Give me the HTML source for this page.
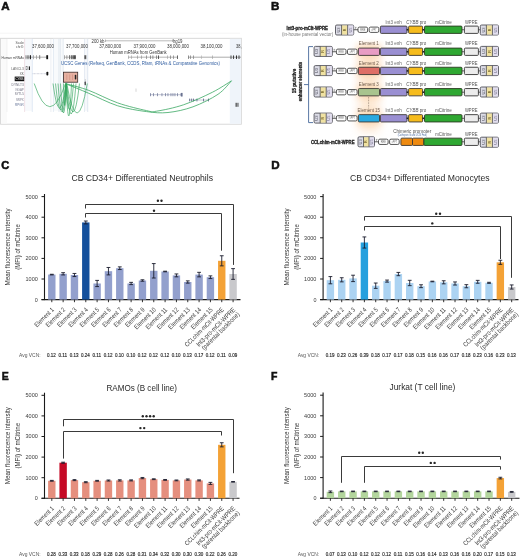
<!DOCTYPE html><html><head><meta charset="utf-8"><style>html,body{margin:0;padding:0;background:#fff;overflow:hidden;}svg{display:block;will-change:transform;}</style></head><body>
<svg width="520" height="557" viewBox="0 0 520 557" font-family='"Liberation Sans", sans-serif'>
<rect width="520" height="557" fill="#fff"/>
<text x="1.20" y="10.20" font-size="11.6" fill="#111" text-anchor="start" font-weight="bold" stroke="#111" stroke-width="0.55" style="">A</text>
<text x="271.00" y="10.00" font-size="11.6" fill="#111" text-anchor="start" font-weight="bold" stroke="#111" stroke-width="0.55" style="">B</text>
<text x="1.30" y="169.00" font-size="11.6" fill="#111" text-anchor="start" font-weight="bold" textLength="8.00" lengthAdjust="spacingAndGlyphs" stroke="#111" stroke-width="0.55" style="">C</text>
<text x="271.20" y="169.40" font-size="11.6" fill="#111" text-anchor="start" font-weight="bold" stroke="#111" stroke-width="0.55" style="">D</text>
<text x="1.70" y="379.90" font-size="11.6" fill="#111" text-anchor="start" font-weight="bold" textLength="7.00" lengthAdjust="spacingAndGlyphs" stroke="#111" stroke-width="0.55" style="">E</text>
<text x="271.00" y="380.10" font-size="11.6" fill="#111" text-anchor="start" font-weight="bold" textLength="6.40" lengthAdjust="spacingAndGlyphs" stroke="#111" stroke-width="0.55" style="">F</text>
<text x="71.40" y="180.60" font-size="8.6" fill="#2a2a2a" text-anchor="start" font-weight="normal" textLength="141.60" lengthAdjust="spacingAndGlyphs"  style="">CB CD34+ Differentiated Neutrophils</text>
<line x1="44.5" y1="194" x2="44.5" y2="300.1" stroke="#1a1a1a" stroke-width="1.1"/>
<line x1="41.5" y1="299.60" x2="44.5" y2="299.60" stroke="#1a1a1a" stroke-width="1"/>
<text x="37.80" y="301.50" font-size="5.4" fill="#3a3a3a" text-anchor="end" font-weight="normal" textLength="3.00" lengthAdjust="spacingAndGlyphs"  style="">0</text>
<line x1="41.5" y1="279.00" x2="44.5" y2="279.00" stroke="#1a1a1a" stroke-width="1"/>
<text x="37.80" y="280.90" font-size="5.4" fill="#3a3a3a" text-anchor="end" font-weight="normal" textLength="12.30" lengthAdjust="spacingAndGlyphs"  style="">1000</text>
<line x1="41.5" y1="258.40" x2="44.5" y2="258.40" stroke="#1a1a1a" stroke-width="1"/>
<text x="37.80" y="260.30" font-size="5.4" fill="#3a3a3a" text-anchor="end" font-weight="normal" textLength="12.30" lengthAdjust="spacingAndGlyphs"  style="">2000</text>
<line x1="41.5" y1="237.80" x2="44.5" y2="237.80" stroke="#1a1a1a" stroke-width="1"/>
<text x="37.80" y="239.70" font-size="5.4" fill="#3a3a3a" text-anchor="end" font-weight="normal" textLength="12.30" lengthAdjust="spacingAndGlyphs"  style="">3000</text>
<line x1="41.5" y1="217.20" x2="44.5" y2="217.20" stroke="#1a1a1a" stroke-width="1"/>
<text x="37.80" y="219.10" font-size="5.4" fill="#3a3a3a" text-anchor="end" font-weight="normal" textLength="12.30" lengthAdjust="spacingAndGlyphs"  style="">4000</text>
<line x1="41.5" y1="196.60" x2="44.5" y2="196.60" stroke="#1a1a1a" stroke-width="1"/>
<text x="37.80" y="198.50" font-size="5.4" fill="#3a3a3a" text-anchor="end" font-weight="normal" textLength="12.30" lengthAdjust="spacingAndGlyphs"  style="">5000</text>
<line x1="41.5" y1="299.6" x2="240.5" y2="299.6" stroke="#1a1a1a" stroke-width="1.1"/>
<rect x="48.10" y="274.59" width="7.4" height="25.01" fill="#93a0cd"/>
<line x1="51.80" y1="299.6" x2="51.80" y2="302.20000000000005" stroke="#1a1a1a" stroke-width="0.9"/>
<line x1="51.80" y1="274.28" x2="51.80" y2="274.90" stroke="#1a1c2c" stroke-width="0.9"/>
<line x1="49.90" y1="274.28" x2="53.70" y2="274.28" stroke="#1a1c2c" stroke-width="0.9"/>
<line x1="49.90" y1="274.90" x2="53.70" y2="274.90" stroke="#1a1c2c" stroke-width="0.9"/>
<rect x="59.43" y="273.81" width="7.4" height="25.79" fill="#93a0cd"/>
<line x1="63.13" y1="299.6" x2="63.13" y2="302.20000000000005" stroke="#1a1a1a" stroke-width="0.9"/>
<line x1="63.13" y1="272.68" x2="63.13" y2="274.94" stroke="#1a1c2c" stroke-width="0.9"/>
<line x1="61.23" y1="272.68" x2="65.03" y2="272.68" stroke="#1a1c2c" stroke-width="0.9"/>
<line x1="61.23" y1="274.94" x2="65.03" y2="274.94" stroke="#1a1c2c" stroke-width="0.9"/>
<rect x="70.76" y="275.00" width="7.4" height="24.60" fill="#93a0cd"/>
<line x1="74.46" y1="299.6" x2="74.46" y2="302.20000000000005" stroke="#1a1a1a" stroke-width="0.9"/>
<line x1="74.46" y1="273.46" x2="74.46" y2="276.55" stroke="#1a1c2c" stroke-width="0.9"/>
<line x1="72.56" y1="273.46" x2="76.36" y2="273.46" stroke="#1a1c2c" stroke-width="0.9"/>
<line x1="72.56" y1="276.55" x2="76.36" y2="276.55" stroke="#1a1c2c" stroke-width="0.9"/>
<rect x="82.09" y="222.45" width="7.4" height="77.15" fill="#14509c"/>
<line x1="85.79" y1="299.6" x2="85.79" y2="302.20000000000005" stroke="#1a1a1a" stroke-width="0.9"/>
<line x1="85.79" y1="221.01" x2="85.79" y2="223.90" stroke="#1a1c2c" stroke-width="0.9"/>
<line x1="83.89" y1="221.01" x2="87.69" y2="221.01" stroke="#1a1c2c" stroke-width="0.9"/>
<line x1="83.89" y1="223.90" x2="87.69" y2="223.90" stroke="#1a1c2c" stroke-width="0.9"/>
<rect x="93.42" y="283.49" width="7.4" height="16.11" fill="#93a0cd"/>
<line x1="97.12" y1="299.6" x2="97.12" y2="302.20000000000005" stroke="#1a1a1a" stroke-width="0.9"/>
<line x1="97.12" y1="280.40" x2="97.12" y2="286.58" stroke="#1a1c2c" stroke-width="0.9"/>
<line x1="95.22" y1="280.40" x2="99.02" y2="280.40" stroke="#1a1c2c" stroke-width="0.9"/>
<line x1="95.22" y1="286.58" x2="99.02" y2="286.58" stroke="#1a1c2c" stroke-width="0.9"/>
<rect x="104.75" y="271.19" width="7.4" height="28.41" fill="#93a0cd"/>
<line x1="108.45" y1="299.6" x2="108.45" y2="302.20000000000005" stroke="#1a1a1a" stroke-width="0.9"/>
<line x1="108.45" y1="267.48" x2="108.45" y2="274.90" stroke="#1a1c2c" stroke-width="0.9"/>
<line x1="106.55" y1="267.48" x2="110.35" y2="267.48" stroke="#1a1c2c" stroke-width="0.9"/>
<line x1="106.55" y1="274.90" x2="110.35" y2="274.90" stroke="#1a1c2c" stroke-width="0.9"/>
<rect x="116.08" y="268.21" width="7.4" height="31.39" fill="#93a0cd"/>
<line x1="119.78" y1="299.6" x2="119.78" y2="302.20000000000005" stroke="#1a1a1a" stroke-width="0.9"/>
<line x1="119.78" y1="266.87" x2="119.78" y2="269.54" stroke="#1a1c2c" stroke-width="0.9"/>
<line x1="117.88" y1="266.87" x2="121.68" y2="266.87" stroke="#1a1c2c" stroke-width="0.9"/>
<line x1="117.88" y1="269.54" x2="121.68" y2="269.54" stroke="#1a1c2c" stroke-width="0.9"/>
<rect x="127.41" y="283.49" width="7.4" height="16.11" fill="#93a0cd"/>
<line x1="131.11" y1="299.6" x2="131.11" y2="302.20000000000005" stroke="#1a1a1a" stroke-width="0.9"/>
<line x1="131.11" y1="282.36" x2="131.11" y2="284.62" stroke="#1a1c2c" stroke-width="0.9"/>
<line x1="129.21" y1="282.36" x2="133.01" y2="282.36" stroke="#1a1c2c" stroke-width="0.9"/>
<line x1="129.21" y1="284.62" x2="133.01" y2="284.62" stroke="#1a1c2c" stroke-width="0.9"/>
<rect x="138.74" y="280.50" width="7.4" height="19.10" fill="#93a0cd"/>
<line x1="142.44" y1="299.6" x2="142.44" y2="302.20000000000005" stroke="#1a1a1a" stroke-width="0.9"/>
<line x1="142.44" y1="279.78" x2="142.44" y2="281.22" stroke="#1a1c2c" stroke-width="0.9"/>
<line x1="140.54" y1="279.78" x2="144.34" y2="279.78" stroke="#1a1c2c" stroke-width="0.9"/>
<line x1="140.54" y1="281.22" x2="144.34" y2="281.22" stroke="#1a1c2c" stroke-width="0.9"/>
<rect x="150.07" y="270.80" width="7.4" height="28.80" fill="#93a0cd"/>
<line x1="153.77" y1="299.6" x2="153.77" y2="302.20000000000005" stroke="#1a1a1a" stroke-width="0.9"/>
<line x1="153.77" y1="263.59" x2="153.77" y2="278.01" stroke="#1a1c2c" stroke-width="0.9"/>
<line x1="151.87" y1="263.59" x2="155.67" y2="263.59" stroke="#1a1c2c" stroke-width="0.9"/>
<line x1="151.87" y1="278.01" x2="155.67" y2="278.01" stroke="#1a1c2c" stroke-width="0.9"/>
<rect x="161.40" y="271.50" width="7.4" height="28.10" fill="#93a0cd"/>
<line x1="165.10" y1="299.6" x2="165.10" y2="302.20000000000005" stroke="#1a1a1a" stroke-width="0.9"/>
<line x1="165.10" y1="271.19" x2="165.10" y2="271.81" stroke="#1a1c2c" stroke-width="0.9"/>
<line x1="163.20" y1="271.19" x2="167.00" y2="271.19" stroke="#1a1c2c" stroke-width="0.9"/>
<line x1="163.20" y1="271.81" x2="167.00" y2="271.81" stroke="#1a1c2c" stroke-width="0.9"/>
<rect x="172.73" y="275.40" width="7.4" height="24.20" fill="#93a0cd"/>
<line x1="176.43" y1="299.6" x2="176.43" y2="302.20000000000005" stroke="#1a1a1a" stroke-width="0.9"/>
<line x1="176.43" y1="273.95" x2="176.43" y2="276.84" stroke="#1a1c2c" stroke-width="0.9"/>
<line x1="174.53" y1="273.95" x2="178.33" y2="273.95" stroke="#1a1c2c" stroke-width="0.9"/>
<line x1="174.53" y1="276.84" x2="178.33" y2="276.84" stroke="#1a1c2c" stroke-width="0.9"/>
<rect x="184.06" y="282.01" width="7.4" height="17.59" fill="#93a0cd"/>
<line x1="187.76" y1="299.6" x2="187.76" y2="302.20000000000005" stroke="#1a1a1a" stroke-width="0.9"/>
<line x1="187.76" y1="280.87" x2="187.76" y2="283.14" stroke="#1a1c2c" stroke-width="0.9"/>
<line x1="185.86" y1="280.87" x2="189.66" y2="280.87" stroke="#1a1c2c" stroke-width="0.9"/>
<line x1="185.86" y1="283.14" x2="189.66" y2="283.14" stroke="#1a1c2c" stroke-width="0.9"/>
<rect x="195.39" y="274.59" width="7.4" height="25.01" fill="#93a0cd"/>
<line x1="199.09" y1="299.6" x2="199.09" y2="302.20000000000005" stroke="#1a1a1a" stroke-width="0.9"/>
<line x1="199.09" y1="272.33" x2="199.09" y2="276.86" stroke="#1a1c2c" stroke-width="0.9"/>
<line x1="197.19" y1="272.33" x2="200.99" y2="272.33" stroke="#1a1c2c" stroke-width="0.9"/>
<line x1="197.19" y1="276.86" x2="200.99" y2="276.86" stroke="#1a1c2c" stroke-width="0.9"/>
<rect x="206.72" y="277.21" width="7.4" height="22.39" fill="#93a0cd"/>
<line x1="210.42" y1="299.6" x2="210.42" y2="302.20000000000005" stroke="#1a1a1a" stroke-width="0.9"/>
<line x1="210.42" y1="275.87" x2="210.42" y2="278.55" stroke="#1a1c2c" stroke-width="0.9"/>
<line x1="208.52" y1="275.87" x2="212.32" y2="275.87" stroke="#1a1c2c" stroke-width="0.9"/>
<line x1="208.52" y1="278.55" x2="212.32" y2="278.55" stroke="#1a1c2c" stroke-width="0.9"/>
<rect x="218.05" y="260.81" width="7.4" height="38.79" fill="#f4a236"/>
<line x1="221.75" y1="299.6" x2="221.75" y2="302.20000000000005" stroke="#1a1a1a" stroke-width="0.9"/>
<line x1="221.75" y1="255.76" x2="221.75" y2="265.86" stroke="#1a1c2c" stroke-width="0.9"/>
<line x1="219.85" y1="255.76" x2="223.65" y2="255.76" stroke="#1a1c2c" stroke-width="0.9"/>
<line x1="219.85" y1="265.86" x2="223.65" y2="265.86" stroke="#1a1c2c" stroke-width="0.9"/>
<rect x="229.38" y="273.99" width="7.4" height="25.61" fill="#c9c9cc"/>
<line x1="233.08" y1="299.6" x2="233.08" y2="302.20000000000005" stroke="#1a1a1a" stroke-width="0.9"/>
<line x1="233.08" y1="268.64" x2="233.08" y2="279.35" stroke="#1a1c2c" stroke-width="0.9"/>
<line x1="231.18" y1="268.64" x2="234.98" y2="268.64" stroke="#1a1c2c" stroke-width="0.9"/>
<line x1="231.18" y1="279.35" x2="234.98" y2="279.35" stroke="#1a1c2c" stroke-width="0.9"/>
<path d="M85.50 208.50 V204.50 H233.50 V264.90" fill="none" stroke="#3a3a3a" stroke-width="1"/>
<path d="M85.50 217.50 V213.50 H221.50 V250.70" fill="none" stroke="#3a3a3a" stroke-width="1"/>
<circle cx="157.90" cy="200.80" r="1.2" fill="#262626"/>
<circle cx="161.50" cy="200.80" r="1.2" fill="#262626"/>
<circle cx="154.00" cy="210.70" r="1.2" fill="#262626"/>
<text transform="translate(54.40,310.20) rotate(-45)" font-size="6.6" fill="#3c3c3c" text-anchor="end" textLength="24.6" lengthAdjust="spacingAndGlyphs">Element 1</text>
<text transform="translate(65.73,310.20) rotate(-45)" font-size="6.6" fill="#3c3c3c" text-anchor="end" textLength="24.6" lengthAdjust="spacingAndGlyphs">Element 2</text>
<text transform="translate(77.06,310.20) rotate(-45)" font-size="6.6" fill="#3c3c3c" text-anchor="end" textLength="24.6" lengthAdjust="spacingAndGlyphs">Element 3</text>
<text transform="translate(88.39,310.20) rotate(-45)" font-size="6.6" fill="#3c3c3c" text-anchor="end" textLength="24.6" lengthAdjust="spacingAndGlyphs">Element 4</text>
<text transform="translate(99.72,310.20) rotate(-45)" font-size="6.6" fill="#3c3c3c" text-anchor="end" textLength="24.6" lengthAdjust="spacingAndGlyphs">Element 5</text>
<text transform="translate(111.05,310.20) rotate(-45)" font-size="6.6" fill="#3c3c3c" text-anchor="end" textLength="24.6" lengthAdjust="spacingAndGlyphs">Element 6</text>
<text transform="translate(122.38,310.20) rotate(-45)" font-size="6.6" fill="#3c3c3c" text-anchor="end" textLength="24.6" lengthAdjust="spacingAndGlyphs">Element 7</text>
<text transform="translate(133.71,310.20) rotate(-45)" font-size="6.6" fill="#3c3c3c" text-anchor="end" textLength="24.6" lengthAdjust="spacingAndGlyphs">Element 8</text>
<text transform="translate(145.04,310.20) rotate(-45)" font-size="6.6" fill="#3c3c3c" text-anchor="end" textLength="24.6" lengthAdjust="spacingAndGlyphs">Element 9</text>
<text transform="translate(156.37,310.20) rotate(-45)" font-size="6.6" fill="#3c3c3c" text-anchor="end" textLength="27.6" lengthAdjust="spacingAndGlyphs">Element 10</text>
<text transform="translate(167.70,310.20) rotate(-45)" font-size="6.6" fill="#3c3c3c" text-anchor="end" textLength="27.6" lengthAdjust="spacingAndGlyphs">Element 11</text>
<text transform="translate(179.03,310.20) rotate(-45)" font-size="6.6" fill="#3c3c3c" text-anchor="end" textLength="27.6" lengthAdjust="spacingAndGlyphs">Element 12</text>
<text transform="translate(190.36,310.20) rotate(-45)" font-size="6.6" fill="#3c3c3c" text-anchor="end" textLength="27.6" lengthAdjust="spacingAndGlyphs">Element 13</text>
<text transform="translate(201.69,310.20) rotate(-45)" font-size="6.6" fill="#3c3c3c" text-anchor="end" textLength="27.6" lengthAdjust="spacingAndGlyphs">Element 14</text>
<text transform="translate(213.02,310.20) rotate(-45)" font-size="6.6" fill="#3c3c3c" text-anchor="end" textLength="27.6" lengthAdjust="spacingAndGlyphs">Element 15</text>
<text transform="translate(224.35,310.20) rotate(-45)" font-size="6.6" fill="#3c3c3c" text-anchor="end" textLength="52.5" lengthAdjust="spacingAndGlyphs">CCLchim-mCit-WPRE</text>
<text transform="translate(235.68,310.20) rotate(-45)" font-size="6.6" fill="#3c3c3c" text-anchor="end" textLength="52.0" lengthAdjust="spacingAndGlyphs">lnt3-pro-mCit-WPRE</text>
<text transform="translate(239.98,314.70) rotate(-45)" font-size="6.6" fill="#3c3c3c" text-anchor="end" textLength="50.5" lengthAdjust="spacingAndGlyphs">(parental backbone)</text>
<text transform="translate(10.40,247.00) rotate(-90)" font-size="7.1" fill="#333" text-anchor="middle" textLength="77" lengthAdjust="spacingAndGlyphs">Mean fluorescence intensity</text>
<text transform="translate(20.20,247.00) rotate(-90)" font-size="7.1" fill="#333" text-anchor="middle" textLength="45.5" lengthAdjust="spacingAndGlyphs">(MFI) of mCitrine</text>
<text x="40.60" y="356.90" font-size="5.6" fill="#555" text-anchor="end" font-weight="normal" textLength="21.50" lengthAdjust="spacingAndGlyphs"  style="">Avg VCN:</text>
<text x="51.50" y="356.90" font-size="5.8" fill="#2a2a2a" text-anchor="middle" font-weight="normal" textLength="8.80" lengthAdjust="spacingAndGlyphs" stroke="#2a2a2a" stroke-width="0.18" style="">0.12</text>
<text x="62.83" y="356.90" font-size="5.8" fill="#2a2a2a" text-anchor="middle" font-weight="normal" textLength="8.80" lengthAdjust="spacingAndGlyphs" stroke="#2a2a2a" stroke-width="0.18" style="">0.11</text>
<text x="74.16" y="356.90" font-size="5.8" fill="#2a2a2a" text-anchor="middle" font-weight="normal" textLength="8.80" lengthAdjust="spacingAndGlyphs" stroke="#2a2a2a" stroke-width="0.18" style="">0.13</text>
<text x="85.49" y="356.90" font-size="5.8" fill="#2a2a2a" text-anchor="middle" font-weight="normal" textLength="8.80" lengthAdjust="spacingAndGlyphs" stroke="#2a2a2a" stroke-width="0.18" style="">0.24</text>
<text x="96.82" y="356.90" font-size="5.8" fill="#2a2a2a" text-anchor="middle" font-weight="normal" textLength="8.80" lengthAdjust="spacingAndGlyphs" stroke="#2a2a2a" stroke-width="0.18" style="">0.11</text>
<text x="108.15" y="356.90" font-size="5.8" fill="#2a2a2a" text-anchor="middle" font-weight="normal" textLength="8.80" lengthAdjust="spacingAndGlyphs" stroke="#2a2a2a" stroke-width="0.18" style="">0.12</text>
<text x="119.48" y="356.90" font-size="5.8" fill="#2a2a2a" text-anchor="middle" font-weight="normal" textLength="8.80" lengthAdjust="spacingAndGlyphs" stroke="#2a2a2a" stroke-width="0.18" style="">0.10</text>
<text x="130.81" y="356.90" font-size="5.8" fill="#2a2a2a" text-anchor="middle" font-weight="normal" textLength="8.80" lengthAdjust="spacingAndGlyphs" stroke="#2a2a2a" stroke-width="0.18" style="">0.10</text>
<text x="142.14" y="356.90" font-size="5.8" fill="#2a2a2a" text-anchor="middle" font-weight="normal" textLength="8.80" lengthAdjust="spacingAndGlyphs" stroke="#2a2a2a" stroke-width="0.18" style="">0.12</text>
<text x="153.47" y="356.90" font-size="5.8" fill="#2a2a2a" text-anchor="middle" font-weight="normal" textLength="8.80" lengthAdjust="spacingAndGlyphs" stroke="#2a2a2a" stroke-width="0.18" style="">0.12</text>
<text x="164.80" y="356.90" font-size="5.8" fill="#2a2a2a" text-anchor="middle" font-weight="normal" textLength="8.80" lengthAdjust="spacingAndGlyphs" stroke="#2a2a2a" stroke-width="0.18" style="">0.12</text>
<text x="176.13" y="356.90" font-size="5.8" fill="#2a2a2a" text-anchor="middle" font-weight="normal" textLength="8.80" lengthAdjust="spacingAndGlyphs" stroke="#2a2a2a" stroke-width="0.18" style="">0.10</text>
<text x="187.46" y="356.90" font-size="5.8" fill="#2a2a2a" text-anchor="middle" font-weight="normal" textLength="8.80" lengthAdjust="spacingAndGlyphs" stroke="#2a2a2a" stroke-width="0.18" style="">0.13</text>
<text x="198.79" y="356.90" font-size="5.8" fill="#2a2a2a" text-anchor="middle" font-weight="normal" textLength="8.80" lengthAdjust="spacingAndGlyphs" stroke="#2a2a2a" stroke-width="0.18" style="">0.17</text>
<text x="210.12" y="356.90" font-size="5.8" fill="#2a2a2a" text-anchor="middle" font-weight="normal" textLength="8.80" lengthAdjust="spacingAndGlyphs" stroke="#2a2a2a" stroke-width="0.18" style="">0.12</text>
<text x="221.45" y="356.90" font-size="5.8" fill="#2a2a2a" text-anchor="middle" font-weight="normal" textLength="8.80" lengthAdjust="spacingAndGlyphs" stroke="#2a2a2a" stroke-width="0.18" style="">0.11</text>
<text x="232.78" y="356.90" font-size="5.8" fill="#2a2a2a" text-anchor="middle" font-weight="normal" textLength="8.80" lengthAdjust="spacingAndGlyphs" stroke="#2a2a2a" stroke-width="0.18" style="">0.09</text>
<text x="350.00" y="180.70" font-size="8.6" fill="#2a2a2a" text-anchor="start" font-weight="normal" textLength="139.60" lengthAdjust="spacingAndGlyphs"  style="">CB CD34+ Differentiated Monocytes</text>
<line x1="323.1" y1="194" x2="323.1" y2="300.1" stroke="#1a1a1a" stroke-width="1.1"/>
<line x1="320.1" y1="299.60" x2="323.1" y2="299.60" stroke="#1a1a1a" stroke-width="1"/>
<text x="316.40" y="301.50" font-size="5.4" fill="#3a3a3a" text-anchor="end" font-weight="normal" textLength="3.00" lengthAdjust="spacingAndGlyphs"  style="">0</text>
<line x1="320.1" y1="279.00" x2="323.1" y2="279.00" stroke="#1a1a1a" stroke-width="1"/>
<text x="316.40" y="280.90" font-size="5.4" fill="#3a3a3a" text-anchor="end" font-weight="normal" textLength="12.30" lengthAdjust="spacingAndGlyphs"  style="">1000</text>
<line x1="320.1" y1="258.40" x2="323.1" y2="258.40" stroke="#1a1a1a" stroke-width="1"/>
<text x="316.40" y="260.30" font-size="5.4" fill="#3a3a3a" text-anchor="end" font-weight="normal" textLength="12.30" lengthAdjust="spacingAndGlyphs"  style="">2000</text>
<line x1="320.1" y1="237.80" x2="323.1" y2="237.80" stroke="#1a1a1a" stroke-width="1"/>
<text x="316.40" y="239.70" font-size="5.4" fill="#3a3a3a" text-anchor="end" font-weight="normal" textLength="12.30" lengthAdjust="spacingAndGlyphs"  style="">3000</text>
<line x1="320.1" y1="217.20" x2="323.1" y2="217.20" stroke="#1a1a1a" stroke-width="1"/>
<text x="316.40" y="219.10" font-size="5.4" fill="#3a3a3a" text-anchor="end" font-weight="normal" textLength="12.30" lengthAdjust="spacingAndGlyphs"  style="">4000</text>
<line x1="320.1" y1="196.60" x2="323.1" y2="196.60" stroke="#1a1a1a" stroke-width="1"/>
<text x="316.40" y="198.50" font-size="5.4" fill="#3a3a3a" text-anchor="end" font-weight="normal" textLength="12.30" lengthAdjust="spacingAndGlyphs"  style="">5000</text>
<line x1="320.1" y1="299.6" x2="518.5" y2="299.6" stroke="#1a1a1a" stroke-width="1.1"/>
<rect x="326.70" y="280.19" width="7.4" height="19.41" fill="#acd3f2"/>
<line x1="330.40" y1="299.6" x2="330.40" y2="302.20000000000005" stroke="#1a1a1a" stroke-width="0.9"/>
<line x1="330.40" y1="276.59" x2="330.40" y2="283.80" stroke="#1a1c2c" stroke-width="0.9"/>
<line x1="328.50" y1="276.59" x2="332.30" y2="276.59" stroke="#1a1c2c" stroke-width="0.9"/>
<line x1="328.50" y1="283.80" x2="332.30" y2="283.80" stroke="#1a1c2c" stroke-width="0.9"/>
<rect x="338.03" y="279.80" width="7.4" height="19.80" fill="#acd3f2"/>
<line x1="341.73" y1="299.6" x2="341.73" y2="302.20000000000005" stroke="#1a1a1a" stroke-width="0.9"/>
<line x1="341.73" y1="277.74" x2="341.73" y2="281.86" stroke="#1a1c2c" stroke-width="0.9"/>
<line x1="339.83" y1="277.74" x2="343.63" y2="277.74" stroke="#1a1c2c" stroke-width="0.9"/>
<line x1="339.83" y1="281.86" x2="343.63" y2="281.86" stroke="#1a1c2c" stroke-width="0.9"/>
<rect x="349.36" y="278.40" width="7.4" height="21.20" fill="#acd3f2"/>
<line x1="353.06" y1="299.6" x2="353.06" y2="302.20000000000005" stroke="#1a1a1a" stroke-width="0.9"/>
<line x1="353.06" y1="275.21" x2="353.06" y2="281.60" stroke="#1a1c2c" stroke-width="0.9"/>
<line x1="351.16" y1="275.21" x2="354.96" y2="275.21" stroke="#1a1c2c" stroke-width="0.9"/>
<line x1="351.16" y1="281.60" x2="354.96" y2="281.60" stroke="#1a1c2c" stroke-width="0.9"/>
<rect x="360.69" y="242.50" width="7.4" height="57.10" fill="#25a0de"/>
<line x1="364.39" y1="299.6" x2="364.39" y2="302.20000000000005" stroke="#1a1a1a" stroke-width="0.9"/>
<line x1="364.39" y1="236.93" x2="364.39" y2="248.06" stroke="#1a1c2c" stroke-width="0.9"/>
<line x1="362.49" y1="236.93" x2="366.29" y2="236.93" stroke="#1a1c2c" stroke-width="0.9"/>
<line x1="362.49" y1="248.06" x2="366.29" y2="248.06" stroke="#1a1c2c" stroke-width="0.9"/>
<rect x="372.02" y="285.70" width="7.4" height="13.90" fill="#acd3f2"/>
<line x1="375.72" y1="299.6" x2="375.72" y2="302.20000000000005" stroke="#1a1a1a" stroke-width="0.9"/>
<line x1="375.72" y1="283.02" x2="375.72" y2="288.37" stroke="#1a1c2c" stroke-width="0.9"/>
<line x1="373.82" y1="283.02" x2="377.62" y2="283.02" stroke="#1a1c2c" stroke-width="0.9"/>
<line x1="373.82" y1="288.37" x2="377.62" y2="288.37" stroke="#1a1c2c" stroke-width="0.9"/>
<rect x="383.35" y="281.10" width="7.4" height="18.50" fill="#acd3f2"/>
<line x1="387.05" y1="299.6" x2="387.05" y2="302.20000000000005" stroke="#1a1a1a" stroke-width="0.9"/>
<line x1="387.05" y1="280.07" x2="387.05" y2="282.13" stroke="#1a1c2c" stroke-width="0.9"/>
<line x1="385.15" y1="280.07" x2="388.95" y2="280.07" stroke="#1a1c2c" stroke-width="0.9"/>
<line x1="385.15" y1="282.13" x2="388.95" y2="282.13" stroke="#1a1c2c" stroke-width="0.9"/>
<rect x="394.68" y="274.06" width="7.4" height="25.54" fill="#acd3f2"/>
<line x1="398.38" y1="299.6" x2="398.38" y2="302.20000000000005" stroke="#1a1a1a" stroke-width="0.9"/>
<line x1="398.38" y1="272.41" x2="398.38" y2="275.70" stroke="#1a1c2c" stroke-width="0.9"/>
<line x1="396.48" y1="272.41" x2="400.28" y2="272.41" stroke="#1a1c2c" stroke-width="0.9"/>
<line x1="396.48" y1="275.70" x2="400.28" y2="275.70" stroke="#1a1c2c" stroke-width="0.9"/>
<rect x="406.01" y="283.00" width="7.4" height="16.60" fill="#acd3f2"/>
<line x1="409.71" y1="299.6" x2="409.71" y2="302.20000000000005" stroke="#1a1a1a" stroke-width="0.9"/>
<line x1="409.71" y1="280.32" x2="409.71" y2="285.67" stroke="#1a1c2c" stroke-width="0.9"/>
<line x1="407.81" y1="280.32" x2="411.61" y2="280.32" stroke="#1a1c2c" stroke-width="0.9"/>
<line x1="407.81" y1="285.67" x2="411.61" y2="285.67" stroke="#1a1c2c" stroke-width="0.9"/>
<rect x="417.34" y="286.21" width="7.4" height="13.39" fill="#acd3f2"/>
<line x1="421.04" y1="299.6" x2="421.04" y2="302.20000000000005" stroke="#1a1a1a" stroke-width="0.9"/>
<line x1="421.04" y1="284.77" x2="421.04" y2="287.65" stroke="#1a1c2c" stroke-width="0.9"/>
<line x1="419.14" y1="284.77" x2="422.94" y2="284.77" stroke="#1a1c2c" stroke-width="0.9"/>
<line x1="419.14" y1="287.65" x2="422.94" y2="287.65" stroke="#1a1c2c" stroke-width="0.9"/>
<rect x="428.67" y="281.49" width="7.4" height="18.11" fill="#acd3f2"/>
<line x1="432.37" y1="299.6" x2="432.37" y2="302.20000000000005" stroke="#1a1a1a" stroke-width="0.9"/>
<line x1="432.37" y1="281.18" x2="432.37" y2="281.80" stroke="#1a1c2c" stroke-width="0.9"/>
<line x1="430.47" y1="281.18" x2="434.27" y2="281.18" stroke="#1a1c2c" stroke-width="0.9"/>
<line x1="430.47" y1="281.80" x2="434.27" y2="281.80" stroke="#1a1c2c" stroke-width="0.9"/>
<rect x="440.00" y="282.30" width="7.4" height="17.30" fill="#acd3f2"/>
<line x1="443.70" y1="299.6" x2="443.70" y2="302.20000000000005" stroke="#1a1a1a" stroke-width="0.9"/>
<line x1="443.70" y1="280.75" x2="443.70" y2="283.84" stroke="#1a1c2c" stroke-width="0.9"/>
<line x1="441.80" y1="280.75" x2="445.60" y2="280.75" stroke="#1a1c2c" stroke-width="0.9"/>
<line x1="441.80" y1="283.84" x2="445.60" y2="283.84" stroke="#1a1c2c" stroke-width="0.9"/>
<rect x="451.33" y="283.49" width="7.4" height="16.11" fill="#acd3f2"/>
<line x1="455.03" y1="299.6" x2="455.03" y2="302.20000000000005" stroke="#1a1a1a" stroke-width="0.9"/>
<line x1="455.03" y1="281.95" x2="455.03" y2="285.04" stroke="#1a1c2c" stroke-width="0.9"/>
<line x1="453.13" y1="281.95" x2="456.93" y2="281.95" stroke="#1a1c2c" stroke-width="0.9"/>
<line x1="453.13" y1="285.04" x2="456.93" y2="285.04" stroke="#1a1c2c" stroke-width="0.9"/>
<rect x="462.66" y="286.21" width="7.4" height="13.39" fill="#acd3f2"/>
<line x1="466.36" y1="299.6" x2="466.36" y2="302.20000000000005" stroke="#1a1a1a" stroke-width="0.9"/>
<line x1="466.36" y1="284.67" x2="466.36" y2="287.76" stroke="#1a1c2c" stroke-width="0.9"/>
<line x1="464.46" y1="284.67" x2="468.26" y2="284.67" stroke="#1a1c2c" stroke-width="0.9"/>
<line x1="464.46" y1="287.76" x2="468.26" y2="287.76" stroke="#1a1c2c" stroke-width="0.9"/>
<rect x="473.99" y="281.80" width="7.4" height="17.80" fill="#acd3f2"/>
<line x1="477.69" y1="299.6" x2="477.69" y2="302.20000000000005" stroke="#1a1a1a" stroke-width="0.9"/>
<line x1="477.69" y1="280.36" x2="477.69" y2="283.24" stroke="#1a1c2c" stroke-width="0.9"/>
<line x1="475.79" y1="280.36" x2="479.59" y2="280.36" stroke="#1a1c2c" stroke-width="0.9"/>
<line x1="475.79" y1="283.24" x2="479.59" y2="283.24" stroke="#1a1c2c" stroke-width="0.9"/>
<rect x="485.32" y="282.81" width="7.4" height="16.79" fill="#acd3f2"/>
<line x1="489.02" y1="299.6" x2="489.02" y2="302.20000000000005" stroke="#1a1a1a" stroke-width="0.9"/>
<line x1="489.02" y1="282.30" x2="489.02" y2="283.33" stroke="#1a1c2c" stroke-width="0.9"/>
<line x1="487.12" y1="282.30" x2="490.92" y2="282.30" stroke="#1a1c2c" stroke-width="0.9"/>
<line x1="487.12" y1="283.33" x2="490.92" y2="283.33" stroke="#1a1c2c" stroke-width="0.9"/>
<rect x="496.65" y="262.31" width="7.4" height="37.29" fill="#f4a236"/>
<line x1="500.35" y1="299.6" x2="500.35" y2="302.20000000000005" stroke="#1a1a1a" stroke-width="0.9"/>
<line x1="500.35" y1="260.25" x2="500.35" y2="264.37" stroke="#1a1c2c" stroke-width="0.9"/>
<line x1="498.45" y1="260.25" x2="502.25" y2="260.25" stroke="#1a1c2c" stroke-width="0.9"/>
<line x1="498.45" y1="264.37" x2="502.25" y2="264.37" stroke="#1a1c2c" stroke-width="0.9"/>
<rect x="507.98" y="286.99" width="7.4" height="12.61" fill="#c9c9cc"/>
<line x1="511.68" y1="299.6" x2="511.68" y2="302.20000000000005" stroke="#1a1a1a" stroke-width="0.9"/>
<line x1="511.68" y1="284.93" x2="511.68" y2="289.05" stroke="#1a1c2c" stroke-width="0.9"/>
<line x1="509.78" y1="284.93" x2="513.58" y2="284.93" stroke="#1a1c2c" stroke-width="0.9"/>
<line x1="509.78" y1="289.05" x2="513.58" y2="289.05" stroke="#1a1c2c" stroke-width="0.9"/>
<path d="M364.50 220.60 V216.50 H511.50 V277.80" fill="none" stroke="#3a3a3a" stroke-width="1"/>
<path d="M364.50 230.50 V226.50 H500.50 V259.00" fill="none" stroke="#3a3a3a" stroke-width="1"/>
<circle cx="436.20" cy="213.70" r="1.2" fill="#262626"/>
<circle cx="440.00" cy="213.70" r="1.2" fill="#262626"/>
<circle cx="432.30" cy="223.40" r="1.2" fill="#262626"/>
<text transform="translate(333.00,310.20) rotate(-45)" font-size="6.6" fill="#3c3c3c" text-anchor="end" textLength="24.6" lengthAdjust="spacingAndGlyphs">Element 1</text>
<text transform="translate(344.33,310.20) rotate(-45)" font-size="6.6" fill="#3c3c3c" text-anchor="end" textLength="24.6" lengthAdjust="spacingAndGlyphs">Element 2</text>
<text transform="translate(355.66,310.20) rotate(-45)" font-size="6.6" fill="#3c3c3c" text-anchor="end" textLength="24.6" lengthAdjust="spacingAndGlyphs">Element 3</text>
<text transform="translate(366.99,310.20) rotate(-45)" font-size="6.6" fill="#3c3c3c" text-anchor="end" textLength="24.6" lengthAdjust="spacingAndGlyphs">Element 4</text>
<text transform="translate(378.32,310.20) rotate(-45)" font-size="6.6" fill="#3c3c3c" text-anchor="end" textLength="24.6" lengthAdjust="spacingAndGlyphs">Element 5</text>
<text transform="translate(389.65,310.20) rotate(-45)" font-size="6.6" fill="#3c3c3c" text-anchor="end" textLength="24.6" lengthAdjust="spacingAndGlyphs">Element 6</text>
<text transform="translate(400.98,310.20) rotate(-45)" font-size="6.6" fill="#3c3c3c" text-anchor="end" textLength="24.6" lengthAdjust="spacingAndGlyphs">Element 7</text>
<text transform="translate(412.31,310.20) rotate(-45)" font-size="6.6" fill="#3c3c3c" text-anchor="end" textLength="24.6" lengthAdjust="spacingAndGlyphs">Element 8</text>
<text transform="translate(423.64,310.20) rotate(-45)" font-size="6.6" fill="#3c3c3c" text-anchor="end" textLength="24.6" lengthAdjust="spacingAndGlyphs">Element 9</text>
<text transform="translate(434.97,310.20) rotate(-45)" font-size="6.6" fill="#3c3c3c" text-anchor="end" textLength="27.6" lengthAdjust="spacingAndGlyphs">Element 10</text>
<text transform="translate(446.30,310.20) rotate(-45)" font-size="6.6" fill="#3c3c3c" text-anchor="end" textLength="27.6" lengthAdjust="spacingAndGlyphs">Element 11</text>
<text transform="translate(457.63,310.20) rotate(-45)" font-size="6.6" fill="#3c3c3c" text-anchor="end" textLength="27.6" lengthAdjust="spacingAndGlyphs">Element 12</text>
<text transform="translate(468.96,310.20) rotate(-45)" font-size="6.6" fill="#3c3c3c" text-anchor="end" textLength="27.6" lengthAdjust="spacingAndGlyphs">Element 13</text>
<text transform="translate(480.29,310.20) rotate(-45)" font-size="6.6" fill="#3c3c3c" text-anchor="end" textLength="27.6" lengthAdjust="spacingAndGlyphs">Element 14</text>
<text transform="translate(491.62,310.20) rotate(-45)" font-size="6.6" fill="#3c3c3c" text-anchor="end" textLength="27.6" lengthAdjust="spacingAndGlyphs">Element 15</text>
<text transform="translate(502.95,310.20) rotate(-45)" font-size="6.6" fill="#3c3c3c" text-anchor="end" textLength="52.5" lengthAdjust="spacingAndGlyphs">CCLchim-mCit-WPRE</text>
<text transform="translate(514.28,310.20) rotate(-45)" font-size="6.6" fill="#3c3c3c" text-anchor="end" textLength="52.0" lengthAdjust="spacingAndGlyphs">lnt3-pro-mCit-WPRE</text>
<text transform="translate(518.58,314.70) rotate(-45)" font-size="6.6" fill="#3c3c3c" text-anchor="end" textLength="50.5" lengthAdjust="spacingAndGlyphs">(parental backbone)</text>
<text transform="translate(289.00,247.00) rotate(-90)" font-size="7.1" fill="#333" text-anchor="middle" textLength="77" lengthAdjust="spacingAndGlyphs">Mean fluorescence intensity</text>
<text transform="translate(298.80,247.00) rotate(-90)" font-size="7.1" fill="#333" text-anchor="middle" textLength="45.5" lengthAdjust="spacingAndGlyphs">(MFI) of mCitrine</text>
<text x="319.20" y="356.90" font-size="5.6" fill="#555" text-anchor="end" font-weight="normal" textLength="21.50" lengthAdjust="spacingAndGlyphs"  style="">Avg VCN:</text>
<text x="330.10" y="356.90" font-size="5.8" fill="#2a2a2a" text-anchor="middle" font-weight="normal" textLength="8.80" lengthAdjust="spacingAndGlyphs" stroke="#2a2a2a" stroke-width="0.18" style="">0.19</text>
<text x="341.43" y="356.90" font-size="5.8" fill="#2a2a2a" text-anchor="middle" font-weight="normal" textLength="8.80" lengthAdjust="spacingAndGlyphs" stroke="#2a2a2a" stroke-width="0.18" style="">0.23</text>
<text x="352.76" y="356.90" font-size="5.8" fill="#2a2a2a" text-anchor="middle" font-weight="normal" textLength="8.80" lengthAdjust="spacingAndGlyphs" stroke="#2a2a2a" stroke-width="0.18" style="">0.26</text>
<text x="364.09" y="356.90" font-size="5.8" fill="#2a2a2a" text-anchor="middle" font-weight="normal" textLength="8.80" lengthAdjust="spacingAndGlyphs" stroke="#2a2a2a" stroke-width="0.18" style="">0.39</text>
<text x="375.42" y="356.90" font-size="5.8" fill="#2a2a2a" text-anchor="middle" font-weight="normal" textLength="8.80" lengthAdjust="spacingAndGlyphs" stroke="#2a2a2a" stroke-width="0.18" style="">0.18</text>
<text x="386.75" y="356.90" font-size="5.8" fill="#2a2a2a" text-anchor="middle" font-weight="normal" textLength="8.80" lengthAdjust="spacingAndGlyphs" stroke="#2a2a2a" stroke-width="0.18" style="">0.17</text>
<text x="398.08" y="356.90" font-size="5.8" fill="#2a2a2a" text-anchor="middle" font-weight="normal" textLength="8.80" lengthAdjust="spacingAndGlyphs" stroke="#2a2a2a" stroke-width="0.18" style="">0.17</text>
<text x="409.41" y="356.90" font-size="5.8" fill="#2a2a2a" text-anchor="middle" font-weight="normal" textLength="8.80" lengthAdjust="spacingAndGlyphs" stroke="#2a2a2a" stroke-width="0.18" style="">0.18</text>
<text x="420.74" y="356.90" font-size="5.8" fill="#2a2a2a" text-anchor="middle" font-weight="normal" textLength="8.80" lengthAdjust="spacingAndGlyphs" stroke="#2a2a2a" stroke-width="0.18" style="">0.15</text>
<text x="432.07" y="356.90" font-size="5.8" fill="#2a2a2a" text-anchor="middle" font-weight="normal" textLength="8.80" lengthAdjust="spacingAndGlyphs" stroke="#2a2a2a" stroke-width="0.18" style="">0.16</text>
<text x="443.40" y="356.90" font-size="5.8" fill="#2a2a2a" text-anchor="middle" font-weight="normal" textLength="8.80" lengthAdjust="spacingAndGlyphs" stroke="#2a2a2a" stroke-width="0.18" style="">0.16</text>
<text x="454.73" y="356.90" font-size="5.8" fill="#2a2a2a" text-anchor="middle" font-weight="normal" textLength="8.80" lengthAdjust="spacingAndGlyphs" stroke="#2a2a2a" stroke-width="0.18" style="">0.17</text>
<text x="466.06" y="356.90" font-size="5.8" fill="#2a2a2a" text-anchor="middle" font-weight="normal" textLength="8.80" lengthAdjust="spacingAndGlyphs" stroke="#2a2a2a" stroke-width="0.18" style="">0.18</text>
<text x="477.39" y="356.90" font-size="5.8" fill="#2a2a2a" text-anchor="middle" font-weight="normal" textLength="8.80" lengthAdjust="spacingAndGlyphs" stroke="#2a2a2a" stroke-width="0.18" style="">0.23</text>
<text x="488.72" y="356.90" font-size="5.8" fill="#2a2a2a" text-anchor="middle" font-weight="normal" textLength="8.80" lengthAdjust="spacingAndGlyphs" stroke="#2a2a2a" stroke-width="0.18" style="">0.16</text>
<text x="500.05" y="356.90" font-size="5.8" fill="#2a2a2a" text-anchor="middle" font-weight="normal" textLength="8.80" lengthAdjust="spacingAndGlyphs" stroke="#2a2a2a" stroke-width="0.18" style="">0.23</text>
<text x="511.38" y="356.90" font-size="5.8" fill="#2a2a2a" text-anchor="middle" font-weight="normal" textLength="8.80" lengthAdjust="spacingAndGlyphs" stroke="#2a2a2a" stroke-width="0.18" style="">0.13</text>
<text x="106.50" y="390.60" font-size="8.6" fill="#2a2a2a" text-anchor="start" font-weight="normal" textLength="70.50" lengthAdjust="spacingAndGlyphs"  style="">RAMOs (B cell line)</text>
<line x1="44.5" y1="392.7" x2="44.5" y2="498.8" stroke="#1a1a1a" stroke-width="1.1"/>
<line x1="41.5" y1="498.30" x2="44.5" y2="498.30" stroke="#1a1a1a" stroke-width="1"/>
<text x="37.80" y="500.20" font-size="5.4" fill="#3a3a3a" text-anchor="end" font-weight="normal" textLength="3.00" lengthAdjust="spacingAndGlyphs"  style="">0</text>
<line x1="41.5" y1="477.70" x2="44.5" y2="477.70" stroke="#1a1a1a" stroke-width="1"/>
<text x="37.80" y="479.60" font-size="5.4" fill="#3a3a3a" text-anchor="end" font-weight="normal" textLength="12.30" lengthAdjust="spacingAndGlyphs"  style="">1000</text>
<line x1="41.5" y1="457.10" x2="44.5" y2="457.10" stroke="#1a1a1a" stroke-width="1"/>
<text x="37.80" y="459.00" font-size="5.4" fill="#3a3a3a" text-anchor="end" font-weight="normal" textLength="12.30" lengthAdjust="spacingAndGlyphs"  style="">2000</text>
<line x1="41.5" y1="436.50" x2="44.5" y2="436.50" stroke="#1a1a1a" stroke-width="1"/>
<text x="37.80" y="438.40" font-size="5.4" fill="#3a3a3a" text-anchor="end" font-weight="normal" textLength="12.30" lengthAdjust="spacingAndGlyphs"  style="">3000</text>
<line x1="41.5" y1="415.90" x2="44.5" y2="415.90" stroke="#1a1a1a" stroke-width="1"/>
<text x="37.80" y="417.80" font-size="5.4" fill="#3a3a3a" text-anchor="end" font-weight="normal" textLength="12.30" lengthAdjust="spacingAndGlyphs"  style="">4000</text>
<line x1="41.5" y1="395.30" x2="44.5" y2="395.30" stroke="#1a1a1a" stroke-width="1"/>
<text x="37.80" y="397.20" font-size="5.4" fill="#3a3a3a" text-anchor="end" font-weight="normal" textLength="12.30" lengthAdjust="spacingAndGlyphs"  style="">5000</text>
<line x1="41.5" y1="498.3" x2="239.5" y2="498.3" stroke="#1a1a1a" stroke-width="1.1"/>
<rect x="48.10" y="480.79" width="7.4" height="17.51" fill="#e58f7e"/>
<line x1="51.80" y1="498.3" x2="51.80" y2="500.90000000000003" stroke="#1a1a1a" stroke-width="0.9"/>
<line x1="51.80" y1="480.38" x2="51.80" y2="481.20" stroke="#1a1c2c" stroke-width="0.9"/>
<line x1="49.90" y1="480.38" x2="53.70" y2="480.38" stroke="#1a1c2c" stroke-width="0.9"/>
<line x1="49.90" y1="481.20" x2="53.70" y2="481.20" stroke="#1a1c2c" stroke-width="0.9"/>
<rect x="59.43" y="462.70" width="7.4" height="35.60" fill="#c50a26"/>
<line x1="63.13" y1="498.3" x2="63.13" y2="500.90000000000003" stroke="#1a1a1a" stroke-width="0.9"/>
<line x1="63.13" y1="462.19" x2="63.13" y2="463.22" stroke="#1a1c2c" stroke-width="0.9"/>
<line x1="61.23" y1="462.19" x2="65.03" y2="462.19" stroke="#1a1c2c" stroke-width="0.9"/>
<line x1="61.23" y1="463.22" x2="65.03" y2="463.22" stroke="#1a1c2c" stroke-width="0.9"/>
<rect x="70.76" y="480.11" width="7.4" height="18.19" fill="#e58f7e"/>
<line x1="74.46" y1="498.3" x2="74.46" y2="500.90000000000003" stroke="#1a1a1a" stroke-width="0.9"/>
<line x1="74.46" y1="479.60" x2="74.46" y2="480.63" stroke="#1a1c2c" stroke-width="0.9"/>
<line x1="72.56" y1="479.60" x2="76.36" y2="479.60" stroke="#1a1c2c" stroke-width="0.9"/>
<line x1="72.56" y1="480.63" x2="76.36" y2="480.63" stroke="#1a1c2c" stroke-width="0.9"/>
<rect x="82.09" y="482.21" width="7.4" height="16.09" fill="#e58f7e"/>
<line x1="85.79" y1="498.3" x2="85.79" y2="500.90000000000003" stroke="#1a1a1a" stroke-width="0.9"/>
<line x1="85.79" y1="481.70" x2="85.79" y2="482.73" stroke="#1a1c2c" stroke-width="0.9"/>
<line x1="83.89" y1="481.70" x2="87.69" y2="481.70" stroke="#1a1c2c" stroke-width="0.9"/>
<line x1="83.89" y1="482.73" x2="87.69" y2="482.73" stroke="#1a1c2c" stroke-width="0.9"/>
<rect x="93.42" y="480.79" width="7.4" height="17.51" fill="#e58f7e"/>
<line x1="97.12" y1="498.3" x2="97.12" y2="500.90000000000003" stroke="#1a1a1a" stroke-width="0.9"/>
<line x1="97.12" y1="480.38" x2="97.12" y2="481.20" stroke="#1a1c2c" stroke-width="0.9"/>
<line x1="95.22" y1="480.38" x2="99.02" y2="480.38" stroke="#1a1c2c" stroke-width="0.9"/>
<line x1="95.22" y1="481.20" x2="99.02" y2="481.20" stroke="#1a1c2c" stroke-width="0.9"/>
<rect x="104.75" y="480.50" width="7.4" height="17.80" fill="#e58f7e"/>
<line x1="108.45" y1="498.3" x2="108.45" y2="500.90000000000003" stroke="#1a1a1a" stroke-width="0.9"/>
<line x1="108.45" y1="479.99" x2="108.45" y2="481.02" stroke="#1a1c2c" stroke-width="0.9"/>
<line x1="106.55" y1="479.99" x2="110.35" y2="479.99" stroke="#1a1c2c" stroke-width="0.9"/>
<line x1="106.55" y1="481.02" x2="110.35" y2="481.02" stroke="#1a1c2c" stroke-width="0.9"/>
<rect x="116.08" y="480.40" width="7.4" height="17.90" fill="#e58f7e"/>
<line x1="119.78" y1="498.3" x2="119.78" y2="500.90000000000003" stroke="#1a1a1a" stroke-width="0.9"/>
<line x1="119.78" y1="479.78" x2="119.78" y2="481.02" stroke="#1a1c2c" stroke-width="0.9"/>
<line x1="117.88" y1="479.78" x2="121.68" y2="479.78" stroke="#1a1c2c" stroke-width="0.9"/>
<line x1="117.88" y1="481.02" x2="121.68" y2="481.02" stroke="#1a1c2c" stroke-width="0.9"/>
<rect x="127.41" y="480.40" width="7.4" height="17.90" fill="#e58f7e"/>
<line x1="131.11" y1="498.3" x2="131.11" y2="500.90000000000003" stroke="#1a1a1a" stroke-width="0.9"/>
<line x1="131.11" y1="479.88" x2="131.11" y2="480.91" stroke="#1a1c2c" stroke-width="0.9"/>
<line x1="129.21" y1="479.88" x2="133.01" y2="479.88" stroke="#1a1c2c" stroke-width="0.9"/>
<line x1="129.21" y1="480.91" x2="133.01" y2="480.91" stroke="#1a1c2c" stroke-width="0.9"/>
<rect x="138.74" y="478.09" width="7.4" height="20.21" fill="#e58f7e"/>
<line x1="142.44" y1="498.3" x2="142.44" y2="500.90000000000003" stroke="#1a1a1a" stroke-width="0.9"/>
<line x1="142.44" y1="477.47" x2="142.44" y2="478.71" stroke="#1a1c2c" stroke-width="0.9"/>
<line x1="140.54" y1="477.47" x2="144.34" y2="477.47" stroke="#1a1c2c" stroke-width="0.9"/>
<line x1="140.54" y1="478.71" x2="144.34" y2="478.71" stroke="#1a1c2c" stroke-width="0.9"/>
<rect x="150.07" y="479.20" width="7.4" height="19.10" fill="#e58f7e"/>
<line x1="153.77" y1="498.3" x2="153.77" y2="500.90000000000003" stroke="#1a1a1a" stroke-width="0.9"/>
<line x1="153.77" y1="478.79" x2="153.77" y2="479.62" stroke="#1a1c2c" stroke-width="0.9"/>
<line x1="151.87" y1="478.79" x2="155.67" y2="478.79" stroke="#1a1c2c" stroke-width="0.9"/>
<line x1="151.87" y1="479.62" x2="155.67" y2="479.62" stroke="#1a1c2c" stroke-width="0.9"/>
<rect x="161.40" y="479.90" width="7.4" height="18.40" fill="#e58f7e"/>
<line x1="165.10" y1="498.3" x2="165.10" y2="500.90000000000003" stroke="#1a1a1a" stroke-width="0.9"/>
<line x1="165.10" y1="479.49" x2="165.10" y2="480.32" stroke="#1a1c2c" stroke-width="0.9"/>
<line x1="163.20" y1="479.49" x2="167.00" y2="479.49" stroke="#1a1c2c" stroke-width="0.9"/>
<line x1="163.20" y1="480.32" x2="167.00" y2="480.32" stroke="#1a1c2c" stroke-width="0.9"/>
<rect x="172.73" y="480.40" width="7.4" height="17.90" fill="#e58f7e"/>
<line x1="176.43" y1="498.3" x2="176.43" y2="500.90000000000003" stroke="#1a1a1a" stroke-width="0.9"/>
<line x1="176.43" y1="479.99" x2="176.43" y2="480.81" stroke="#1a1c2c" stroke-width="0.9"/>
<line x1="174.53" y1="479.99" x2="178.33" y2="479.99" stroke="#1a1c2c" stroke-width="0.9"/>
<line x1="174.53" y1="480.81" x2="178.33" y2="480.81" stroke="#1a1c2c" stroke-width="0.9"/>
<rect x="184.06" y="479.55" width="7.4" height="18.75" fill="#e58f7e"/>
<line x1="187.76" y1="498.3" x2="187.76" y2="500.90000000000003" stroke="#1a1a1a" stroke-width="0.9"/>
<line x1="187.76" y1="478.94" x2="187.76" y2="480.17" stroke="#1a1c2c" stroke-width="0.9"/>
<line x1="185.86" y1="478.94" x2="189.66" y2="478.94" stroke="#1a1c2c" stroke-width="0.9"/>
<line x1="185.86" y1="480.17" x2="189.66" y2="480.17" stroke="#1a1c2c" stroke-width="0.9"/>
<rect x="195.39" y="480.40" width="7.4" height="17.90" fill="#e58f7e"/>
<line x1="199.09" y1="498.3" x2="199.09" y2="500.90000000000003" stroke="#1a1a1a" stroke-width="0.9"/>
<line x1="199.09" y1="479.88" x2="199.09" y2="480.91" stroke="#1a1c2c" stroke-width="0.9"/>
<line x1="197.19" y1="479.88" x2="200.99" y2="479.88" stroke="#1a1c2c" stroke-width="0.9"/>
<line x1="197.19" y1="480.91" x2="200.99" y2="480.91" stroke="#1a1c2c" stroke-width="0.9"/>
<rect x="206.72" y="483.41" width="7.4" height="14.89" fill="#e58f7e"/>
<line x1="210.42" y1="498.3" x2="210.42" y2="500.90000000000003" stroke="#1a1a1a" stroke-width="0.9"/>
<line x1="210.42" y1="482.38" x2="210.42" y2="484.44" stroke="#1a1c2c" stroke-width="0.9"/>
<line x1="208.52" y1="482.38" x2="212.32" y2="482.38" stroke="#1a1c2c" stroke-width="0.9"/>
<line x1="208.52" y1="484.44" x2="212.32" y2="484.44" stroke="#1a1c2c" stroke-width="0.9"/>
<rect x="218.05" y="444.80" width="7.4" height="53.50" fill="#f4a236"/>
<line x1="221.75" y1="498.3" x2="221.75" y2="500.90000000000003" stroke="#1a1a1a" stroke-width="0.9"/>
<line x1="221.75" y1="442.74" x2="221.75" y2="446.86" stroke="#1a1c2c" stroke-width="0.9"/>
<line x1="219.85" y1="442.74" x2="223.65" y2="442.74" stroke="#1a1c2c" stroke-width="0.9"/>
<line x1="219.85" y1="446.86" x2="223.65" y2="446.86" stroke="#1a1c2c" stroke-width="0.9"/>
<rect x="229.38" y="481.80" width="7.4" height="16.50" fill="#c9c9cc"/>
<line x1="233.08" y1="498.3" x2="233.08" y2="500.90000000000003" stroke="#1a1a1a" stroke-width="0.9"/>
<line x1="233.08" y1="481.49" x2="233.08" y2="482.11" stroke="#1a1c2c" stroke-width="0.9"/>
<line x1="231.18" y1="481.49" x2="234.98" y2="481.49" stroke="#1a1c2c" stroke-width="0.9"/>
<line x1="231.18" y1="482.11" x2="234.98" y2="482.11" stroke="#1a1c2c" stroke-width="0.9"/>
<path d="M63.50 426.30 V419.50 H233.50 V473.20" fill="none" stroke="#3a3a3a" stroke-width="1"/>
<path d="M63.50 458.60 V431.50 H221.50 V435.50" fill="none" stroke="#3a3a3a" stroke-width="1"/>
<circle cx="142.80" cy="416.30" r="1.2" fill="#262626"/>
<circle cx="146.50" cy="416.30" r="1.2" fill="#262626"/>
<circle cx="150.10" cy="416.30" r="1.2" fill="#262626"/>
<circle cx="153.70" cy="416.30" r="1.2" fill="#262626"/>
<circle cx="140.40" cy="428.10" r="1.2" fill="#262626"/>
<circle cx="144.20" cy="428.10" r="1.2" fill="#262626"/>
<text transform="translate(54.40,508.90) rotate(-45)" font-size="6.6" fill="#3c3c3c" text-anchor="end" textLength="24.6" lengthAdjust="spacingAndGlyphs">Element 1</text>
<text transform="translate(65.73,508.90) rotate(-45)" font-size="6.6" fill="#3c3c3c" text-anchor="end" textLength="24.6" lengthAdjust="spacingAndGlyphs">Element 2</text>
<text transform="translate(77.06,508.90) rotate(-45)" font-size="6.6" fill="#3c3c3c" text-anchor="end" textLength="24.6" lengthAdjust="spacingAndGlyphs">Element 3</text>
<text transform="translate(88.39,508.90) rotate(-45)" font-size="6.6" fill="#3c3c3c" text-anchor="end" textLength="24.6" lengthAdjust="spacingAndGlyphs">Element 4</text>
<text transform="translate(99.72,508.90) rotate(-45)" font-size="6.6" fill="#3c3c3c" text-anchor="end" textLength="24.6" lengthAdjust="spacingAndGlyphs">Element 5</text>
<text transform="translate(111.05,508.90) rotate(-45)" font-size="6.6" fill="#3c3c3c" text-anchor="end" textLength="24.6" lengthAdjust="spacingAndGlyphs">Element 6</text>
<text transform="translate(122.38,508.90) rotate(-45)" font-size="6.6" fill="#3c3c3c" text-anchor="end" textLength="24.6" lengthAdjust="spacingAndGlyphs">Element 7</text>
<text transform="translate(133.71,508.90) rotate(-45)" font-size="6.6" fill="#3c3c3c" text-anchor="end" textLength="24.6" lengthAdjust="spacingAndGlyphs">Element 8</text>
<text transform="translate(145.04,508.90) rotate(-45)" font-size="6.6" fill="#3c3c3c" text-anchor="end" textLength="24.6" lengthAdjust="spacingAndGlyphs">Element 9</text>
<text transform="translate(156.37,508.90) rotate(-45)" font-size="6.6" fill="#3c3c3c" text-anchor="end" textLength="27.6" lengthAdjust="spacingAndGlyphs">Element 10</text>
<text transform="translate(167.70,508.90) rotate(-45)" font-size="6.6" fill="#3c3c3c" text-anchor="end" textLength="27.6" lengthAdjust="spacingAndGlyphs">Element 11</text>
<text transform="translate(179.03,508.90) rotate(-45)" font-size="6.6" fill="#3c3c3c" text-anchor="end" textLength="27.6" lengthAdjust="spacingAndGlyphs">Element 12</text>
<text transform="translate(190.36,508.90) rotate(-45)" font-size="6.6" fill="#3c3c3c" text-anchor="end" textLength="27.6" lengthAdjust="spacingAndGlyphs">Element 13</text>
<text transform="translate(201.69,508.90) rotate(-45)" font-size="6.6" fill="#3c3c3c" text-anchor="end" textLength="27.6" lengthAdjust="spacingAndGlyphs">Element 14</text>
<text transform="translate(213.02,508.90) rotate(-45)" font-size="6.6" fill="#3c3c3c" text-anchor="end" textLength="27.6" lengthAdjust="spacingAndGlyphs">Element 15</text>
<text transform="translate(224.35,508.90) rotate(-45)" font-size="6.6" fill="#3c3c3c" text-anchor="end" textLength="52.5" lengthAdjust="spacingAndGlyphs">CCLchim-mCit-WPRE</text>
<text transform="translate(235.68,508.90) rotate(-45)" font-size="6.6" fill="#3c3c3c" text-anchor="end" textLength="52.0" lengthAdjust="spacingAndGlyphs">lnt3-pro-mCit-WPRE</text>
<text transform="translate(239.98,513.40) rotate(-45)" font-size="6.6" fill="#3c3c3c" text-anchor="end" textLength="50.5" lengthAdjust="spacingAndGlyphs">(parental backbone)</text>
<text transform="translate(10.40,445.70) rotate(-90)" font-size="7.1" fill="#333" text-anchor="middle" textLength="77" lengthAdjust="spacingAndGlyphs">Mean fluorescence intensity</text>
<text transform="translate(20.20,445.70) rotate(-90)" font-size="7.1" fill="#333" text-anchor="middle" textLength="45.5" lengthAdjust="spacingAndGlyphs">(MFI) of mCitrine</text>
<text x="40.60" y="555.60" font-size="5.6" fill="#555" text-anchor="end" font-weight="normal" textLength="21.50" lengthAdjust="spacingAndGlyphs"  style="">Avg VCN:</text>
<text x="51.50" y="555.60" font-size="5.8" fill="#2a2a2a" text-anchor="middle" font-weight="normal" textLength="8.80" lengthAdjust="spacingAndGlyphs" stroke="#2a2a2a" stroke-width="0.18" style="">0.28</text>
<text x="62.83" y="555.60" font-size="5.8" fill="#2a2a2a" text-anchor="middle" font-weight="normal" textLength="8.80" lengthAdjust="spacingAndGlyphs" stroke="#2a2a2a" stroke-width="0.18" style="">0.33</text>
<text x="74.16" y="555.60" font-size="5.8" fill="#2a2a2a" text-anchor="middle" font-weight="normal" textLength="8.80" lengthAdjust="spacingAndGlyphs" stroke="#2a2a2a" stroke-width="0.18" style="">0.33</text>
<text x="85.49" y="555.60" font-size="5.8" fill="#2a2a2a" text-anchor="middle" font-weight="normal" textLength="8.80" lengthAdjust="spacingAndGlyphs" stroke="#2a2a2a" stroke-width="0.18" style="">0.18</text>
<text x="96.82" y="555.60" font-size="5.8" fill="#2a2a2a" text-anchor="middle" font-weight="normal" textLength="8.80" lengthAdjust="spacingAndGlyphs" stroke="#2a2a2a" stroke-width="0.18" style="">0.29</text>
<text x="108.15" y="555.60" font-size="5.8" fill="#2a2a2a" text-anchor="middle" font-weight="normal" textLength="8.80" lengthAdjust="spacingAndGlyphs" stroke="#2a2a2a" stroke-width="0.18" style="">0.28</text>
<text x="119.48" y="555.60" font-size="5.8" fill="#2a2a2a" text-anchor="middle" font-weight="normal" textLength="8.80" lengthAdjust="spacingAndGlyphs" stroke="#2a2a2a" stroke-width="0.18" style="">0.26</text>
<text x="130.81" y="555.60" font-size="5.8" fill="#2a2a2a" text-anchor="middle" font-weight="normal" textLength="8.80" lengthAdjust="spacingAndGlyphs" stroke="#2a2a2a" stroke-width="0.18" style="">0.28</text>
<text x="142.14" y="555.60" font-size="5.8" fill="#2a2a2a" text-anchor="middle" font-weight="normal" textLength="8.80" lengthAdjust="spacingAndGlyphs" stroke="#2a2a2a" stroke-width="0.18" style="">0.31</text>
<text x="153.47" y="555.60" font-size="5.8" fill="#2a2a2a" text-anchor="middle" font-weight="normal" textLength="8.80" lengthAdjust="spacingAndGlyphs" stroke="#2a2a2a" stroke-width="0.18" style="">0.34</text>
<text x="164.80" y="555.60" font-size="5.8" fill="#2a2a2a" text-anchor="middle" font-weight="normal" textLength="8.80" lengthAdjust="spacingAndGlyphs" stroke="#2a2a2a" stroke-width="0.18" style="">0.32</text>
<text x="176.13" y="555.60" font-size="5.8" fill="#2a2a2a" text-anchor="middle" font-weight="normal" textLength="8.80" lengthAdjust="spacingAndGlyphs" stroke="#2a2a2a" stroke-width="0.18" style="">0.30</text>
<text x="187.46" y="555.60" font-size="5.8" fill="#2a2a2a" text-anchor="middle" font-weight="normal" textLength="8.80" lengthAdjust="spacingAndGlyphs" stroke="#2a2a2a" stroke-width="0.18" style="">0.30</text>
<text x="198.79" y="555.60" font-size="5.8" fill="#2a2a2a" text-anchor="middle" font-weight="normal" textLength="8.80" lengthAdjust="spacingAndGlyphs" stroke="#2a2a2a" stroke-width="0.18" style="">0.30</text>
<text x="210.12" y="555.60" font-size="5.8" fill="#2a2a2a" text-anchor="middle" font-weight="normal" textLength="8.80" lengthAdjust="spacingAndGlyphs" stroke="#2a2a2a" stroke-width="0.18" style="">0.22</text>
<text x="221.45" y="555.60" font-size="5.8" fill="#2a2a2a" text-anchor="middle" font-weight="normal" textLength="8.80" lengthAdjust="spacingAndGlyphs" stroke="#2a2a2a" stroke-width="0.18" style="">0.26</text>
<text x="232.78" y="555.60" font-size="5.8" fill="#2a2a2a" text-anchor="middle" font-weight="normal" textLength="8.80" lengthAdjust="spacingAndGlyphs" stroke="#2a2a2a" stroke-width="0.18" style="">0.20</text>
<text x="389.50" y="390.30" font-size="8.6" fill="#2a2a2a" text-anchor="start" font-weight="normal" textLength="65.90" lengthAdjust="spacingAndGlyphs"  style="">Jurkat (T cell line)</text>
<line x1="323.1" y1="392.6" x2="323.1" y2="498.70000000000005" stroke="#1a1a1a" stroke-width="1.1"/>
<line x1="320.1" y1="498.20" x2="323.1" y2="498.20" stroke="#1a1a1a" stroke-width="1"/>
<text x="316.40" y="500.10" font-size="5.4" fill="#3a3a3a" text-anchor="end" font-weight="normal" textLength="3.00" lengthAdjust="spacingAndGlyphs"  style="">0</text>
<line x1="320.1" y1="477.60" x2="323.1" y2="477.60" stroke="#1a1a1a" stroke-width="1"/>
<text x="316.40" y="479.50" font-size="5.4" fill="#3a3a3a" text-anchor="end" font-weight="normal" textLength="12.30" lengthAdjust="spacingAndGlyphs"  style="">1000</text>
<line x1="320.1" y1="457.00" x2="323.1" y2="457.00" stroke="#1a1a1a" stroke-width="1"/>
<text x="316.40" y="458.90" font-size="5.4" fill="#3a3a3a" text-anchor="end" font-weight="normal" textLength="12.30" lengthAdjust="spacingAndGlyphs"  style="">2000</text>
<line x1="320.1" y1="436.40" x2="323.1" y2="436.40" stroke="#1a1a1a" stroke-width="1"/>
<text x="316.40" y="438.30" font-size="5.4" fill="#3a3a3a" text-anchor="end" font-weight="normal" textLength="12.30" lengthAdjust="spacingAndGlyphs"  style="">3000</text>
<line x1="320.1" y1="415.80" x2="323.1" y2="415.80" stroke="#1a1a1a" stroke-width="1"/>
<text x="316.40" y="417.70" font-size="5.4" fill="#3a3a3a" text-anchor="end" font-weight="normal" textLength="12.30" lengthAdjust="spacingAndGlyphs"  style="">4000</text>
<line x1="320.1" y1="395.20" x2="323.1" y2="395.20" stroke="#1a1a1a" stroke-width="1"/>
<text x="316.40" y="397.10" font-size="5.4" fill="#3a3a3a" text-anchor="end" font-weight="normal" textLength="12.30" lengthAdjust="spacingAndGlyphs"  style="">5000</text>
<line x1="320.1" y1="498.20000000000005" x2="519.5" y2="498.20000000000005" stroke="#1a1a1a" stroke-width="1.1"/>
<rect x="326.70" y="491.81" width="7.4" height="6.39" fill="#b3d59d"/>
<line x1="330.40" y1="498.20000000000005" x2="330.40" y2="500.80000000000007" stroke="#1a1a1a" stroke-width="0.9"/>
<line x1="330.40" y1="490.99" x2="330.40" y2="492.64" stroke="#1a1c2c" stroke-width="0.9"/>
<line x1="328.50" y1="490.99" x2="332.30" y2="490.99" stroke="#1a1c2c" stroke-width="0.9"/>
<line x1="328.50" y1="492.64" x2="332.30" y2="492.64" stroke="#1a1c2c" stroke-width="0.9"/>
<rect x="338.03" y="491.40" width="7.4" height="6.80" fill="#b3d59d"/>
<line x1="341.73" y1="498.20000000000005" x2="341.73" y2="500.80000000000007" stroke="#1a1a1a" stroke-width="0.9"/>
<line x1="341.73" y1="491.09" x2="341.73" y2="491.71" stroke="#1a1c2c" stroke-width="0.9"/>
<line x1="339.83" y1="491.09" x2="343.63" y2="491.09" stroke="#1a1c2c" stroke-width="0.9"/>
<line x1="339.83" y1="491.71" x2="343.63" y2="491.71" stroke="#1a1c2c" stroke-width="0.9"/>
<rect x="349.36" y="491.40" width="7.4" height="6.80" fill="#b3d59d"/>
<line x1="353.06" y1="498.20000000000005" x2="353.06" y2="500.80000000000007" stroke="#1a1a1a" stroke-width="0.9"/>
<line x1="353.06" y1="491.09" x2="353.06" y2="491.71" stroke="#1a1c2c" stroke-width="0.9"/>
<line x1="351.16" y1="491.09" x2="354.96" y2="491.09" stroke="#1a1c2c" stroke-width="0.9"/>
<line x1="351.16" y1="491.71" x2="354.96" y2="491.71" stroke="#1a1c2c" stroke-width="0.9"/>
<rect x="360.69" y="491.40" width="7.4" height="6.80" fill="#b3d59d"/>
<line x1="364.39" y1="498.20000000000005" x2="364.39" y2="500.80000000000007" stroke="#1a1a1a" stroke-width="0.9"/>
<line x1="364.39" y1="491.09" x2="364.39" y2="491.71" stroke="#1a1c2c" stroke-width="0.9"/>
<line x1="362.49" y1="491.09" x2="366.29" y2="491.09" stroke="#1a1c2c" stroke-width="0.9"/>
<line x1="362.49" y1="491.71" x2="366.29" y2="491.71" stroke="#1a1c2c" stroke-width="0.9"/>
<rect x="372.02" y="491.40" width="7.4" height="6.80" fill="#b3d59d"/>
<line x1="375.72" y1="498.20000000000005" x2="375.72" y2="500.80000000000007" stroke="#1a1a1a" stroke-width="0.9"/>
<line x1="375.72" y1="491.09" x2="375.72" y2="491.71" stroke="#1a1c2c" stroke-width="0.9"/>
<line x1="373.82" y1="491.09" x2="377.62" y2="491.09" stroke="#1a1c2c" stroke-width="0.9"/>
<line x1="373.82" y1="491.71" x2="377.62" y2="491.71" stroke="#1a1c2c" stroke-width="0.9"/>
<rect x="383.35" y="491.40" width="7.4" height="6.80" fill="#b3d59d"/>
<line x1="387.05" y1="498.20000000000005" x2="387.05" y2="500.80000000000007" stroke="#1a1a1a" stroke-width="0.9"/>
<line x1="387.05" y1="491.09" x2="387.05" y2="491.71" stroke="#1a1c2c" stroke-width="0.9"/>
<line x1="385.15" y1="491.09" x2="388.95" y2="491.09" stroke="#1a1c2c" stroke-width="0.9"/>
<line x1="385.15" y1="491.71" x2="388.95" y2="491.71" stroke="#1a1c2c" stroke-width="0.9"/>
<rect x="394.68" y="491.40" width="7.4" height="6.80" fill="#b3d59d"/>
<line x1="398.38" y1="498.20000000000005" x2="398.38" y2="500.80000000000007" stroke="#1a1a1a" stroke-width="0.9"/>
<line x1="398.38" y1="491.09" x2="398.38" y2="491.71" stroke="#1a1c2c" stroke-width="0.9"/>
<line x1="396.48" y1="491.09" x2="400.28" y2="491.09" stroke="#1a1c2c" stroke-width="0.9"/>
<line x1="396.48" y1="491.71" x2="400.28" y2="491.71" stroke="#1a1c2c" stroke-width="0.9"/>
<rect x="406.01" y="491.40" width="7.4" height="6.80" fill="#b3d59d"/>
<line x1="409.71" y1="498.20000000000005" x2="409.71" y2="500.80000000000007" stroke="#1a1a1a" stroke-width="0.9"/>
<line x1="409.71" y1="491.09" x2="409.71" y2="491.71" stroke="#1a1c2c" stroke-width="0.9"/>
<line x1="407.81" y1="491.09" x2="411.61" y2="491.09" stroke="#1a1c2c" stroke-width="0.9"/>
<line x1="407.81" y1="491.71" x2="411.61" y2="491.71" stroke="#1a1c2c" stroke-width="0.9"/>
<rect x="417.34" y="491.40" width="7.4" height="6.80" fill="#b3d59d"/>
<line x1="421.04" y1="498.20000000000005" x2="421.04" y2="500.80000000000007" stroke="#1a1a1a" stroke-width="0.9"/>
<line x1="421.04" y1="491.09" x2="421.04" y2="491.71" stroke="#1a1c2c" stroke-width="0.9"/>
<line x1="419.14" y1="491.09" x2="422.94" y2="491.09" stroke="#1a1c2c" stroke-width="0.9"/>
<line x1="419.14" y1="491.71" x2="422.94" y2="491.71" stroke="#1a1c2c" stroke-width="0.9"/>
<rect x="428.67" y="491.40" width="7.4" height="6.80" fill="#b3d59d"/>
<line x1="432.37" y1="498.20000000000005" x2="432.37" y2="500.80000000000007" stroke="#1a1a1a" stroke-width="0.9"/>
<line x1="432.37" y1="491.09" x2="432.37" y2="491.71" stroke="#1a1c2c" stroke-width="0.9"/>
<line x1="430.47" y1="491.09" x2="434.27" y2="491.09" stroke="#1a1c2c" stroke-width="0.9"/>
<line x1="430.47" y1="491.71" x2="434.27" y2="491.71" stroke="#1a1c2c" stroke-width="0.9"/>
<rect x="440.00" y="491.40" width="7.4" height="6.80" fill="#b3d59d"/>
<line x1="443.70" y1="498.20000000000005" x2="443.70" y2="500.80000000000007" stroke="#1a1a1a" stroke-width="0.9"/>
<line x1="443.70" y1="491.09" x2="443.70" y2="491.71" stroke="#1a1c2c" stroke-width="0.9"/>
<line x1="441.80" y1="491.09" x2="445.60" y2="491.09" stroke="#1a1c2c" stroke-width="0.9"/>
<line x1="441.80" y1="491.71" x2="445.60" y2="491.71" stroke="#1a1c2c" stroke-width="0.9"/>
<rect x="451.33" y="491.40" width="7.4" height="6.80" fill="#b3d59d"/>
<line x1="455.03" y1="498.20000000000005" x2="455.03" y2="500.80000000000007" stroke="#1a1a1a" stroke-width="0.9"/>
<line x1="455.03" y1="491.09" x2="455.03" y2="491.71" stroke="#1a1c2c" stroke-width="0.9"/>
<line x1="453.13" y1="491.09" x2="456.93" y2="491.09" stroke="#1a1c2c" stroke-width="0.9"/>
<line x1="453.13" y1="491.71" x2="456.93" y2="491.71" stroke="#1a1c2c" stroke-width="0.9"/>
<rect x="462.66" y="491.40" width="7.4" height="6.80" fill="#b3d59d"/>
<line x1="466.36" y1="498.20000000000005" x2="466.36" y2="500.80000000000007" stroke="#1a1a1a" stroke-width="0.9"/>
<line x1="466.36" y1="491.09" x2="466.36" y2="491.71" stroke="#1a1c2c" stroke-width="0.9"/>
<line x1="464.46" y1="491.09" x2="468.26" y2="491.09" stroke="#1a1c2c" stroke-width="0.9"/>
<line x1="464.46" y1="491.71" x2="468.26" y2="491.71" stroke="#1a1c2c" stroke-width="0.9"/>
<rect x="473.99" y="491.40" width="7.4" height="6.80" fill="#b3d59d"/>
<line x1="477.69" y1="498.20000000000005" x2="477.69" y2="500.80000000000007" stroke="#1a1a1a" stroke-width="0.9"/>
<line x1="477.69" y1="491.09" x2="477.69" y2="491.71" stroke="#1a1c2c" stroke-width="0.9"/>
<line x1="475.79" y1="491.09" x2="479.59" y2="491.09" stroke="#1a1c2c" stroke-width="0.9"/>
<line x1="475.79" y1="491.71" x2="479.59" y2="491.71" stroke="#1a1c2c" stroke-width="0.9"/>
<rect x="485.32" y="491.40" width="7.4" height="6.80" fill="#b3d59d"/>
<line x1="489.02" y1="498.20000000000005" x2="489.02" y2="500.80000000000007" stroke="#1a1a1a" stroke-width="0.9"/>
<line x1="489.02" y1="491.09" x2="489.02" y2="491.71" stroke="#1a1c2c" stroke-width="0.9"/>
<line x1="487.12" y1="491.09" x2="490.92" y2="491.09" stroke="#1a1c2c" stroke-width="0.9"/>
<line x1="487.12" y1="491.71" x2="490.92" y2="491.71" stroke="#1a1c2c" stroke-width="0.9"/>
<rect x="496.65" y="478.09" width="7.4" height="20.11" fill="#f4a236"/>
<line x1="500.35" y1="498.20000000000005" x2="500.35" y2="500.80000000000007" stroke="#1a1a1a" stroke-width="0.9"/>
<line x1="500.35" y1="477.27" x2="500.35" y2="478.92" stroke="#1a1c2c" stroke-width="0.9"/>
<line x1="498.45" y1="477.27" x2="502.25" y2="477.27" stroke="#1a1c2c" stroke-width="0.9"/>
<line x1="498.45" y1="478.92" x2="502.25" y2="478.92" stroke="#1a1c2c" stroke-width="0.9"/>
<rect x="507.98" y="491.90" width="7.4" height="6.30" fill="#c9c9cc"/>
<line x1="511.68" y1="498.20000000000005" x2="511.68" y2="500.80000000000007" stroke="#1a1a1a" stroke-width="0.9"/>
<line x1="511.68" y1="491.48" x2="511.68" y2="492.31" stroke="#1a1c2c" stroke-width="0.9"/>
<line x1="509.78" y1="491.48" x2="513.58" y2="491.48" stroke="#1a1c2c" stroke-width="0.9"/>
<line x1="509.78" y1="492.31" x2="513.58" y2="492.31" stroke="#1a1c2c" stroke-width="0.9"/>
<path d="M341.50 482.80 V456.50 H500.50 V459.60" fill="none" stroke="#3a3a3a" stroke-width="1"/>
<path d="M364.50 482.80 V466.50 H500.50 V469.60" fill="none" stroke="#3a3a3a" stroke-width="1"/>
<circle cx="419.20" cy="452.80" r="1.2" fill="#262626"/>
<circle cx="422.80" cy="452.80" r="1.2" fill="#262626"/>
<circle cx="430.80" cy="462.90" r="1.2" fill="#262626"/>
<circle cx="434.60" cy="462.90" r="1.2" fill="#262626"/>
<text transform="translate(333.00,508.80) rotate(-45)" font-size="6.6" fill="#3c3c3c" text-anchor="end" textLength="24.6" lengthAdjust="spacingAndGlyphs">Element 1</text>
<text transform="translate(344.33,508.80) rotate(-45)" font-size="6.6" fill="#3c3c3c" text-anchor="end" textLength="24.6" lengthAdjust="spacingAndGlyphs">Element 2</text>
<text transform="translate(355.66,508.80) rotate(-45)" font-size="6.6" fill="#3c3c3c" text-anchor="end" textLength="24.6" lengthAdjust="spacingAndGlyphs">Element 3</text>
<text transform="translate(366.99,508.80) rotate(-45)" font-size="6.6" fill="#3c3c3c" text-anchor="end" textLength="24.6" lengthAdjust="spacingAndGlyphs">Element 4</text>
<text transform="translate(378.32,508.80) rotate(-45)" font-size="6.6" fill="#3c3c3c" text-anchor="end" textLength="24.6" lengthAdjust="spacingAndGlyphs">Element 5</text>
<text transform="translate(389.65,508.80) rotate(-45)" font-size="6.6" fill="#3c3c3c" text-anchor="end" textLength="24.6" lengthAdjust="spacingAndGlyphs">Element 6</text>
<text transform="translate(400.98,508.80) rotate(-45)" font-size="6.6" fill="#3c3c3c" text-anchor="end" textLength="24.6" lengthAdjust="spacingAndGlyphs">Element 7</text>
<text transform="translate(412.31,508.80) rotate(-45)" font-size="6.6" fill="#3c3c3c" text-anchor="end" textLength="24.6" lengthAdjust="spacingAndGlyphs">Element 8</text>
<text transform="translate(423.64,508.80) rotate(-45)" font-size="6.6" fill="#3c3c3c" text-anchor="end" textLength="24.6" lengthAdjust="spacingAndGlyphs">Element 9</text>
<text transform="translate(434.97,508.80) rotate(-45)" font-size="6.6" fill="#3c3c3c" text-anchor="end" textLength="27.6" lengthAdjust="spacingAndGlyphs">Element 10</text>
<text transform="translate(446.30,508.80) rotate(-45)" font-size="6.6" fill="#3c3c3c" text-anchor="end" textLength="27.6" lengthAdjust="spacingAndGlyphs">Element 11</text>
<text transform="translate(457.63,508.80) rotate(-45)" font-size="6.6" fill="#3c3c3c" text-anchor="end" textLength="27.6" lengthAdjust="spacingAndGlyphs">Element 12</text>
<text transform="translate(468.96,508.80) rotate(-45)" font-size="6.6" fill="#3c3c3c" text-anchor="end" textLength="27.6" lengthAdjust="spacingAndGlyphs">Element 13</text>
<text transform="translate(480.29,508.80) rotate(-45)" font-size="6.6" fill="#3c3c3c" text-anchor="end" textLength="27.6" lengthAdjust="spacingAndGlyphs">Element 14</text>
<text transform="translate(491.62,508.80) rotate(-45)" font-size="6.6" fill="#3c3c3c" text-anchor="end" textLength="27.6" lengthAdjust="spacingAndGlyphs">Element 15</text>
<text transform="translate(502.95,508.80) rotate(-45)" font-size="6.6" fill="#3c3c3c" text-anchor="end" textLength="52.5" lengthAdjust="spacingAndGlyphs">CCLchim-mCit-WPRE</text>
<text transform="translate(514.28,508.80) rotate(-45)" font-size="6.6" fill="#3c3c3c" text-anchor="end" textLength="52.0" lengthAdjust="spacingAndGlyphs">lnt3-pro-mCit-WPRE</text>
<text transform="translate(518.58,513.30) rotate(-45)" font-size="6.6" fill="#3c3c3c" text-anchor="end" textLength="50.5" lengthAdjust="spacingAndGlyphs">(parental backbone)</text>
<text transform="translate(289.00,445.60) rotate(-90)" font-size="7.1" fill="#333" text-anchor="middle" textLength="77" lengthAdjust="spacingAndGlyphs">Mean fluorescence intensity</text>
<text transform="translate(298.80,445.60) rotate(-90)" font-size="7.1" fill="#333" text-anchor="middle" textLength="45.5" lengthAdjust="spacingAndGlyphs">(MFI) of mCitrine</text>
<text x="319.20" y="555.50" font-size="5.6" fill="#555" text-anchor="end" font-weight="normal" textLength="21.50" lengthAdjust="spacingAndGlyphs"  style="">Avg VCN:</text>
<text x="330.10" y="555.50" font-size="5.8" fill="#2a2a2a" text-anchor="middle" font-weight="normal" textLength="8.80" lengthAdjust="spacingAndGlyphs" stroke="#2a2a2a" stroke-width="0.18" style="">0.07</text>
<text x="341.43" y="555.50" font-size="5.8" fill="#2a2a2a" text-anchor="middle" font-weight="normal" textLength="8.80" lengthAdjust="spacingAndGlyphs" stroke="#2a2a2a" stroke-width="0.18" style="">0.13</text>
<text x="352.76" y="555.50" font-size="5.8" fill="#2a2a2a" text-anchor="middle" font-weight="normal" textLength="8.80" lengthAdjust="spacingAndGlyphs" stroke="#2a2a2a" stroke-width="0.18" style="">0.10</text>
<text x="364.09" y="555.50" font-size="5.8" fill="#2a2a2a" text-anchor="middle" font-weight="normal" textLength="8.80" lengthAdjust="spacingAndGlyphs" stroke="#2a2a2a" stroke-width="0.18" style="">0.12</text>
<text x="375.42" y="555.50" font-size="5.8" fill="#2a2a2a" text-anchor="middle" font-weight="normal" textLength="8.80" lengthAdjust="spacingAndGlyphs" stroke="#2a2a2a" stroke-width="0.18" style="">0.12</text>
<text x="386.75" y="555.50" font-size="5.8" fill="#2a2a2a" text-anchor="middle" font-weight="normal" textLength="8.80" lengthAdjust="spacingAndGlyphs" stroke="#2a2a2a" stroke-width="0.18" style="">0.12</text>
<text x="398.08" y="555.50" font-size="5.8" fill="#2a2a2a" text-anchor="middle" font-weight="normal" textLength="8.80" lengthAdjust="spacingAndGlyphs" stroke="#2a2a2a" stroke-width="0.18" style="">0.11</text>
<text x="409.41" y="555.50" font-size="5.8" fill="#2a2a2a" text-anchor="middle" font-weight="normal" textLength="8.80" lengthAdjust="spacingAndGlyphs" stroke="#2a2a2a" stroke-width="0.18" style="">0.15</text>
<text x="420.74" y="555.50" font-size="5.8" fill="#2a2a2a" text-anchor="middle" font-weight="normal" textLength="8.80" lengthAdjust="spacingAndGlyphs" stroke="#2a2a2a" stroke-width="0.18" style="">0.16</text>
<text x="432.07" y="555.50" font-size="5.8" fill="#2a2a2a" text-anchor="middle" font-weight="normal" textLength="8.80" lengthAdjust="spacingAndGlyphs" stroke="#2a2a2a" stroke-width="0.18" style="">0.14</text>
<text x="443.40" y="555.50" font-size="5.8" fill="#2a2a2a" text-anchor="middle" font-weight="normal" textLength="8.80" lengthAdjust="spacingAndGlyphs" stroke="#2a2a2a" stroke-width="0.18" style="">0.13</text>
<text x="454.73" y="555.50" font-size="5.8" fill="#2a2a2a" text-anchor="middle" font-weight="normal" textLength="8.80" lengthAdjust="spacingAndGlyphs" stroke="#2a2a2a" stroke-width="0.18" style="">0.16</text>
<text x="466.06" y="555.50" font-size="5.8" fill="#2a2a2a" text-anchor="middle" font-weight="normal" textLength="8.80" lengthAdjust="spacingAndGlyphs" stroke="#2a2a2a" stroke-width="0.18" style="">0.16</text>
<text x="477.39" y="555.50" font-size="5.8" fill="#2a2a2a" text-anchor="middle" font-weight="normal" textLength="8.80" lengthAdjust="spacingAndGlyphs" stroke="#2a2a2a" stroke-width="0.18" style="">0.20</text>
<text x="488.72" y="555.50" font-size="5.8" fill="#2a2a2a" text-anchor="middle" font-weight="normal" textLength="8.80" lengthAdjust="spacingAndGlyphs" stroke="#2a2a2a" stroke-width="0.18" style="">0.17</text>
<text x="500.05" y="555.50" font-size="5.8" fill="#2a2a2a" text-anchor="middle" font-weight="normal" textLength="8.80" lengthAdjust="spacingAndGlyphs" stroke="#2a2a2a" stroke-width="0.18" style="">0.15</text>
<text x="511.38" y="555.50" font-size="5.8" fill="#2a2a2a" text-anchor="middle" font-weight="normal" textLength="8.80" lengthAdjust="spacingAndGlyphs" stroke="#2a2a2a" stroke-width="0.18" style="">0.13</text>
<line x1="0" y1="33.2" x2="240" y2="33.2" stroke="#f2f2f2" stroke-width="0.8"/>
<rect x="0.6" y="38.3" width="240.7" height="85.9" fill="#fff" stroke="#d4d4d4" stroke-width="0.9"/>
<rect x="24.6" y="38.8" width="7.7" height="72" fill="#f7f9fc"/>
<rect x="53" y="38.8" width="10" height="72" fill="#f8fafc"/>
<rect x="84.5" y="38.8" width="3.2" height="72" fill="#f6f8fb"/>
<rect x="229.8" y="38.8" width="11" height="85" fill="#eff4fa"/>
<rect x="1.5" y="39" width="5.5" height="84.5" fill="#fafafa"/>
<line x1="24.6" y1="38.8" x2="24.6" y2="112" stroke="#ecd6dc" stroke-width="0.7"/>
<line x1="32.3" y1="38.8" x2="32.3" y2="112" stroke="#d6e2f0" stroke-width="0.7"/>
<line x1="50.9" y1="38.8" x2="50.9" y2="112" stroke="#e2e6ee" stroke-width="0.7"/>
<line x1="53.4" y1="38.8" x2="53.4" y2="112" stroke="#dbe4ef" stroke-width="0.7"/>
<line x1="58.8" y1="38.8" x2="58.8" y2="112" stroke="#dfe6ef" stroke-width="0.7"/>
<line x1="60.2" y1="38.8" x2="60.2" y2="112" stroke="#d7dfea" stroke-width="0.7"/>
<line x1="63.2" y1="38.8" x2="63.2" y2="112" stroke="#dbe3ee" stroke-width="0.7"/>
<line x1="84.5" y1="38.8" x2="84.5" y2="112" stroke="#dde4ee" stroke-width="0.7"/>
<line x1="87.7" y1="38.8" x2="87.7" y2="112" stroke="#d6dfeb" stroke-width="0.7"/>
<line x1="7" y1="38.8" x2="7" y2="112" stroke="#ececec" stroke-width="0.7"/>
<text x="24.00" y="43.60" font-size="4.2" fill="#555" text-anchor="end" font-weight="normal" textLength="8.50" lengthAdjust="spacingAndGlyphs"  style="">Scale</text>
<text x="24.00" y="47.80" font-size="4.2" fill="#555" text-anchor="end" font-weight="normal" textLength="8.00" lengthAdjust="spacingAndGlyphs"  style="">chrX:</text>
<text x="91.50" y="42.60" font-size="5.0" fill="#333" text-anchor="start" font-weight="normal" textLength="13.00" lengthAdjust="spacingAndGlyphs"  style="">200 kb</text>
<line x1="105.5" y1="40.8" x2="172.5" y2="40.8" stroke="#777" stroke-width="0.5"/>
<line x1="105.5" y1="39.5" x2="105.5" y2="42" stroke="#777" stroke-width="0.5"/>
<line x1="172.5" y1="39.5" x2="172.5" y2="42" stroke="#777" stroke-width="0.5"/>
<text x="173.00" y="42.80" font-size="4.8" fill="#333" text-anchor="start" font-weight="normal" textLength="9.50" lengthAdjust="spacingAndGlyphs"  style="">hg19</text>
<text x="32.00" y="48.20" font-size="4.6" fill="#333" text-anchor="start" font-weight="normal" textLength="22.00" lengthAdjust="spacingAndGlyphs"  style="">37,600,000</text>
<text x="66.00" y="48.20" font-size="4.6" fill="#333" text-anchor="start" font-weight="normal" textLength="22.00" lengthAdjust="spacingAndGlyphs"  style="">37,700,000</text>
<text x="99.20" y="48.20" font-size="4.6" fill="#333" text-anchor="start" font-weight="normal" textLength="22.00" lengthAdjust="spacingAndGlyphs"  style="">37,800,000</text>
<text x="133.50" y="48.20" font-size="4.6" fill="#333" text-anchor="start" font-weight="normal" textLength="22.00" lengthAdjust="spacingAndGlyphs"  style="">37,900,000</text>
<text x="167.00" y="48.20" font-size="4.6" fill="#333" text-anchor="start" font-weight="normal" textLength="22.00" lengthAdjust="spacingAndGlyphs"  style="">38,000,000</text>
<text x="200.50" y="48.20" font-size="4.6" fill="#333" text-anchor="start" font-weight="normal" textLength="22.00" lengthAdjust="spacingAndGlyphs"  style="">38,100,000</text>
<text x="236.00" y="48.20" font-size="4.6" fill="#333" text-anchor="start" font-weight="normal" textLength="5.50" lengthAdjust="spacingAndGlyphs"  style="">38,</text>
<text x="109.70" y="54.30" font-size="4.5" fill="#333" text-anchor="start" font-weight="normal" textLength="57.00" lengthAdjust="spacingAndGlyphs"  style="">Human mRNAs from GenBank</text>
<text x="24.00" y="59.20" font-size="4.0" fill="#444" text-anchor="end" font-weight="normal" textLength="22.50" lengthAdjust="spacingAndGlyphs"  style="">Human mRNAs</text>
<text x="60.90" y="64.60" font-size="4.5" fill="#2d5b9f" text-anchor="start" font-weight="normal" textLength="159.00" lengthAdjust="spacingAndGlyphs"  style="">UCSC Genes (Refseq, GenBank, CCDS, Rfam, tRNAs &amp; Comparative Genomics)</text>
<line x1="25.5" y1="57.2" x2="48" y2="57.2" stroke="#666" stroke-width="0.5"/>
<rect x="25.5" y="55.20" width="1" height="4" fill="#888"/>
<rect x="27.5" y="55.20" width="1" height="4" fill="#555"/>
<rect x="29.8" y="55.20" width="1.2" height="4" fill="#222"/>
<rect x="33" y="55.20" width="0.8" height="4" fill="#999"/>
<rect x="36" y="55.20" width="0.8" height="4" fill="#999"/>
<rect x="39.2" y="55.20" width="1" height="4" fill="#777"/>
<rect x="46.3" y="55.20" width="1.8" height="4" fill="#111"/>
<line x1="64" y1="57.2" x2="76" y2="57.2" stroke="#666" stroke-width="0.5"/>
<rect x="64.2" y="55.20" width="0.8" height="4" fill="#999"/>
<rect x="66.5" y="55.20" width="0.8" height="4" fill="#888"/>
<rect x="69" y="55.20" width="1" height="4" fill="#777"/>
<rect x="70.8" y="55.20" width="1" height="4" fill="#555"/>
<rect x="72.5" y="55.20" width="1.2" height="4" fill="#333"/>
<rect x="74.3" y="55.20" width="1.3" height="4" fill="#111"/>
<line x1="84" y1="57.2" x2="86" y2="57.2" stroke="#666" stroke-width="0.5"/>
<rect x="84" y="55.20" width="0.8" height="4" fill="#777"/>
<rect x="85.3" y="55.20" width="0.9" height="4" fill="#222"/>
<line x1="128" y1="57.2" x2="178" y2="57.2" stroke="#666" stroke-width="0.5"/>
<rect x="128" y="55.45" width="0.6" height="3.5" fill="#999"/>
<rect x="131" y="55.45" width="0.6" height="3.5" fill="#999"/>
<rect x="137" y="55.45" width="0.6" height="3.5" fill="#888"/>
<rect x="141" y="55.45" width="0.6" height="3.5" fill="#888"/>
<rect x="146" y="55.45" width="0.8" height="3.5" fill="#888"/>
<rect x="150" y="55.45" width="0.8" height="3.5" fill="#777"/>
<rect x="152.5" y="55.45" width="0.8" height="3.5" fill="#777"/>
<rect x="156" y="55.45" width="0.8" height="3.5" fill="#777"/>
<rect x="158" y="55.45" width="1" height="3.5" fill="#555"/>
<rect x="167" y="55.45" width="0.6" height="3.5" fill="#999"/>
<rect x="170" y="55.45" width="0.8" height="3.5" fill="#888"/>
<rect x="173" y="55.45" width="0.8" height="3.5" fill="#888"/>
<rect x="177" y="55.45" width="1" height="3.5" fill="#666"/>
<line x1="188" y1="57.2" x2="241" y2="57.2" stroke="#555" stroke-width="0.5"/>
<rect x="188" y="55.45" width="0.8" height="3.5" fill="#777"/>
<rect x="190" y="55.45" width="0.8" height="3.5" fill="#888"/>
<rect x="193" y="55.45" width="0.8" height="3.5" fill="#888"/>
<rect x="201" y="55.45" width="0.6" height="3.5" fill="#aaa"/>
<rect x="212" y="55.45" width="0.6" height="3.5" fill="#999"/>
<rect x="230.5" y="55.45" width="1" height="3.5" fill="#555"/>
<rect x="233" y="55.45" width="1" height="3.5" fill="#444"/>
<rect x="236" y="55.45" width="1" height="3.5" fill="#333"/>
<rect x="238.5" y="55.45" width="1" height="3.5" fill="#444"/>
<text x="23.80" y="69.50" font-size="4.0" fill="#666" text-anchor="end" font-weight="normal" textLength="12.60" lengthAdjust="spacingAndGlyphs"  style="">LANCL3</text>
<text x="23.80" y="74.90" font-size="4.0" fill="#555" text-anchor="end" font-weight="normal" textLength="4.00" lengthAdjust="spacingAndGlyphs"  style="">XK</text>
<text x="23.80" y="86.00" font-size="4.0" fill="#667" text-anchor="end" font-weight="normal" textLength="12.20" lengthAdjust="spacingAndGlyphs"  style="">DYNLT3</text>
<text x="23.80" y="90.90" font-size="4.0" fill="#778" text-anchor="end" font-weight="normal" textLength="8.30" lengthAdjust="spacingAndGlyphs"  style="">NGAP</text>
<text x="23.80" y="95.40" font-size="4.0" fill="#667" text-anchor="end" font-weight="normal" textLength="9.10" lengthAdjust="spacingAndGlyphs"  style="">SYTL5</text>
<text x="23.80" y="101.30" font-size="4.0" fill="#778" text-anchor="end" font-weight="normal" textLength="7.90" lengthAdjust="spacingAndGlyphs"  style="">SRPX</text>
<text x="23.80" y="106.40" font-size="4.0" fill="#5a6a90" text-anchor="end" font-weight="normal" textLength="8.70" lengthAdjust="spacingAndGlyphs"  style="">RPGR</text>
<rect x="14.7" y="76.6" width="9.5" height="4.6" fill="#111"/>
<text x="19.45" y="80.30" font-size="3.6" fill="#fff" text-anchor="middle" font-weight="normal" textLength="8.00" lengthAdjust="spacingAndGlyphs"  style="">CYBB</text>
<rect x="26" y="66.6" width="1.2" height="3.2" fill="none" stroke="#777" stroke-width="0.5"/>
<rect x="28.8" y="66.4" width="1.2" height="3.6" fill="#222"/>
<line x1="32.7" y1="73.7" x2="47" y2="73.7" stroke="#9aa0b8" stroke-width="0.6" stroke-dasharray="0.8,0.6"/>
<rect x="46.4" y="71.8" width="1.9" height="3.8" rx="0.8" fill="#111"/>
<rect x="63.5" y="72.2" width="14.2" height="10" fill="#e7b1a2" stroke="#3a2a28" stroke-width="0.8"/>
<rect x="66.3" y="74.5" width="1" height="5.5" fill="#d69a8b"/>
<rect x="69.2" y="74.5" width="1" height="5.5" fill="#d69a8b"/>
<rect x="72.0" y="74.5" width="1" height="5.5" fill="#d69a8b"/>
<rect x="74.8" y="74.8" width="1.5" height="4.6" rx="0.6" fill="#222"/>
<rect x="84.6" y="81.6" width="1.4" height="3.6" rx="0.6" fill="#333"/>
<line x1="85.3" y1="79" x2="85.3" y2="85" stroke="#999" stroke-width="0.4"/>
<line x1="136" y1="88.5" x2="136" y2="91.8" stroke="#bbb" stroke-width="0.6"/>
<line x1="150" y1="94.7" x2="182" y2="94.7" stroke="#8088a8" stroke-width="0.5"/>
<rect x="150" y="93.2" width="0.9" height="3" fill="#8088a4"/>
<rect x="153" y="93.2" width="0.9" height="3" fill="#8088a4"/>
<rect x="157" y="93.2" width="0.9" height="3" fill="#8088a4"/>
<rect x="161.5" y="93.2" width="0.9" height="3" fill="#8088a4"/>
<rect x="165" y="93.2" width="0.9" height="3" fill="#8088a4"/>
<rect x="167.5" y="93.2" width="0.9" height="3" fill="#8088a4"/>
<rect x="170.5" y="93.2" width="0.9" height="3" fill="#8088a4"/>
<rect x="172.5" y="93.2" width="0.9" height="3" fill="#8088a4"/>
<rect x="174.5" y="93.2" width="0.9" height="3" fill="#8088a4"/>
<rect x="177" y="93.2" width="0.9" height="3" fill="#8088a4"/>
<rect x="180.5" y="93.2" width="0.9" height="3" fill="#8088a4"/>
<rect x="181" y="92.9" width="1.6" height="3.6" fill="#6a7290"/>
<line x1="189" y1="100" x2="208.5" y2="100" stroke="#8890aa" stroke-width="0.5"/>
<rect x="189.2" y="98.6" width="0.9" height="2.8" fill="#6a7290"/>
<rect x="191.2" y="98.6" width="0.9" height="2.8" fill="#6a7290"/>
<rect x="193" y="98.6" width="0.9" height="2.8" fill="#6a7290"/>
<rect x="196.5" y="98.6" width="0.9" height="2.8" fill="#6a7290"/>
<rect x="203" y="98.6" width="0.9" height="2.8" fill="#6a7290"/>
<rect x="208" y="98.6" width="0.9" height="2.8" fill="#6a7290"/>
<rect x="235.6" y="102.8" width="1.1" height="4" fill="#333"/>
<rect x="237.4" y="102.8" width="1.1" height="4" fill="#555"/>
<path d="M34.2 83.5 Q49.85 129.9 65.5 83.5" fill="none" stroke="#2fa35a" stroke-width="0.7" opacity="0.9"/>
<path d="M53 83.5 Q59.50 132.5 66 83.5" fill="none" stroke="#2fa35a" stroke-width="0.7" opacity="0.9"/>
<path d="M55.5 83.5 Q60.75 136.5 66 83.5" fill="none" stroke="#2fa35a" stroke-width="0.7" opacity="0.9"/>
<path d="M58 83.5 Q62.15 140.5 66.3 83.5" fill="none" stroke="#2fa35a" stroke-width="0.7" opacity="0.9"/>
<path d="M60.5 83.5 Q63.50 142.5 66.5 83.5" fill="none" stroke="#2fa35a" stroke-width="0.7" opacity="0.9"/>
<path d="M66 83.5 Q68.75 148.5 71.5 83.5" fill="none" stroke="#2fa35a" stroke-width="0.7" opacity="0.9"/>
<path d="M66.3 83.5 Q71.15 144.5 76 83.5" fill="none" stroke="#2fa35a" stroke-width="0.7" opacity="0.9"/>
<path d="M66.5 83.5 Q73.00 140.5 79.5 83.5" fill="none" stroke="#2fa35a" stroke-width="0.7" opacity="0.9"/>
<path d="M66.8 83.5 Q77.05 142.5 87.3 83.5" fill="none" stroke="#2fa35a" stroke-width="0.7" opacity="0.9"/>
<path d="M63.5 83.5 Q64.75 127.5 66 83.5" fill="none" stroke="#2fa35a" stroke-width="0.7" opacity="0.9"/>
<path d="M65.5 83.5 Q69.50 135.5 73.5 83.5" fill="none" stroke="#2fa35a" stroke-width="0.7" opacity="0.9"/>
<path d="M67 84 C70.63 85.07 80.35 87.25 88.8 90.4 C97.25 93.55 108.08 99.53 117.7 102.9 C127.32 106.27 140.03 109.22 146.5 110.6 C152.97 111.98 150.33 112.17 156.5 111.2 C162.67 110.23 174.20 107.95 183.5 104.8 C192.80 101.65 204.30 96.30 212.3 92.3 C220.30 88.30 228.30 82.72 231.5 80.8" fill="none" stroke="#2fa35a" stroke-width="0.75"/>
<path d="M67.5 84.5 C71.05 85.97 80.43 89.75 88.8 93.3 C97.17 96.85 108.08 102.75 117.7 105.8 C127.32 108.85 138.12 110.48 146.5 111.6 C154.88 112.72 160.25 113.30 168 112.5 C175.75 111.70 184.67 109.83 193 106.8 C201.33 103.77 211.58 98.63 218 94.3 C224.42 89.97 229.25 83.05 231.5 80.8" fill="none" stroke="#2fa35a" stroke-width="0.75"/>
<defs><filter id="gb" x="-50%" y="-50%" width="200%" height="200%"><feGaussianBlur stdDeviation="5"/></filter><filter id="gb2" x="-50%" y="-50%" width="200%" height="200%"><feGaussianBlur stdDeviation="3"/></filter></defs>
<rect x="359" y="46" width="20" height="86" fill="#fcd8b4" filter="url(#gb)" opacity="0.55"/>
<rect x="357" y="44.8" width="24" height="13" fill="#f9c48e" filter="url(#gb2)" opacity="0.5"/>
<rect x="357" y="63.9" width="24" height="13" fill="#f9c48e" filter="url(#gb2)" opacity="0.5"/>
<rect x="357" y="85.2" width="24" height="13" fill="#f9c48e" filter="url(#gb2)" opacity="0.5"/>
<rect x="357" y="111.3" width="24" height="13" fill="#f9c48e" filter="url(#gb2)" opacity="0.5"/>
<text x="327.90" y="30.00" font-size="4.9" fill="#222" text-anchor="end" font-weight="bold" textLength="41.40" lengthAdjust="spacingAndGlyphs" stroke="#222" stroke-width="0.3" style="">lnt3-pro-mCit-WPRE</text>
<text x="333.30" y="36.00" font-size="4.9" fill="#777" text-anchor="end" font-weight="normal" textLength="51.30" lengthAdjust="spacingAndGlyphs"  style="">(in-house parental vector)</text>
<text x="354.50" y="144.10" font-size="5.0" fill="#222" text-anchor="end" font-weight="bold" textLength="43.50" lengthAdjust="spacingAndGlyphs" stroke="#222" stroke-width="0.3" style="">CCLchim-mCit-WPRE</text>
<path d="M313 46.6 H308.6 V122.6 H313" fill="none" stroke="#46689a" stroke-width="0.9"/>
<line x1="304" y1="84.6" x2="308.6" y2="84.6" stroke="#46689a" stroke-width="0.9"/>
<text transform="translate(296.1,81.0) rotate(-90)" font-size="4.7" font-weight="bold" fill="#222" stroke="#222" stroke-width="0.25" text-anchor="middle" textLength="24.7" lengthAdjust="spacingAndGlyphs">15 putative</text>
<text transform="translate(301.5,81.5) rotate(-90)" font-size="4.7" font-weight="bold" fill="#222" stroke="#222" stroke-width="0.25" text-anchor="middle" textLength="39.5" lengthAdjust="spacingAndGlyphs">enhancer elements</text>
<g>
<rect x="335.50" y="25.00" width="18.20" height="10" rx="1.3" fill="#dcdce6" stroke="#505058" stroke-width="0.9"/>
<rect x="341.57" y="25.45" width="6.07" height="9.10" fill="#f0e2a2"/>
<rect x="347.63" y="25.45" width="5.62" height="9.10" fill="#e2deee"/>
<line x1="341.57" y1="25.00" x2="341.57" y2="35.00" stroke="#4b4b4e" stroke-width="0.8"/>
<line x1="347.63" y1="25.00" x2="347.63" y2="35.00" stroke="#4b4b4e" stroke-width="0.8"/>
<text transform="translate(339.73,30.00) rotate(-90)" font-size="3.4" fill="#4a4a58" text-anchor="middle" textLength="5.2" lengthAdjust="spacingAndGlyphs">U3</text>
<text transform="translate(345.80,30.00) rotate(-90)" font-size="3.4" fill="#5a4a10" text-anchor="middle" textLength="2.6" lengthAdjust="spacingAndGlyphs">R</text>
<text transform="translate(351.87,30.00) rotate(-90)" font-size="3.4" fill="#6a6680" text-anchor="middle" textLength="5.2" lengthAdjust="spacingAndGlyphs">U5</text>
</g>
<line x1="353.70" y1="29.75" x2="358" y2="29.75" stroke="#333" stroke-width="0.8"/>
<path d="M355.6 29.55 V27.35 M355 27.35 H356.6" stroke="#555" stroke-width="0.45" fill="none"/>
<rect x="358.00" y="27.10" width="9.6" height="5.3" rx="1.4" fill="#fff" stroke="#3a3a3a" stroke-width="0.85"/>
<text x="362.80" y="30.85" font-size="3.0" fill="#666" text-anchor="middle" font-weight="normal" textLength="5.20" lengthAdjust="spacingAndGlyphs"  style="">RRE</text>
<rect x="369.20" y="27.10" width="9.6" height="5.3" rx="1.4" fill="#fff" stroke="#3a3a3a" stroke-width="0.85"/>
<text x="374.00" y="30.85" font-size="3.0" fill="#666" text-anchor="middle" font-weight="normal" textLength="5.20" lengthAdjust="spacingAndGlyphs"  style="">cPPT</text>
<rect x="380.40" y="26.10" width="26.60" height="7.3" rx="1" fill="#9a8fd2" stroke="#3d3a36" stroke-width="0.9"/>
<rect x="406.6" y="28.95" width="2" height="1.6" fill="#222"/>
<rect x="408.60" y="26.10" width="14.00" height="7.3" rx="1" fill="#f6bc1d" stroke="#3d3a36" stroke-width="0.9"/>
<rect x="422.5" y="28.95" width="2" height="1.6" fill="#222"/>
<rect x="424.50" y="26.10" width="37.50" height="7.3" rx="1" fill="#2fa832" stroke="#2b3a22" stroke-width="0.9"/>
<line x1="462" y1="29.75" x2="464.4" y2="29.75" stroke="#333" stroke-width="0.8"/>
<rect x="464.40" y="26.10" width="14.00" height="7.3" rx="1" fill="#ececec" stroke="#333" stroke-width="0.9"/>
<line x1="478.4" y1="29.75" x2="480.3" y2="29.75" stroke="#333" stroke-width="0.8"/>
<g>
<rect x="480.30" y="25.00" width="18.20" height="10" rx="1.3" fill="#dcdce6" stroke="#505058" stroke-width="0.9"/>
<rect x="486.37" y="25.45" width="6.07" height="9.10" fill="#f0e2a2"/>
<rect x="492.43" y="25.45" width="5.62" height="9.10" fill="#e2deee"/>
<line x1="486.37" y1="25.00" x2="486.37" y2="35.00" stroke="#4b4b4e" stroke-width="0.8"/>
<line x1="492.43" y1="25.00" x2="492.43" y2="35.00" stroke="#4b4b4e" stroke-width="0.8"/>
<text transform="translate(484.53,30.00) rotate(-90)" font-size="3.4" fill="#4a4a58" text-anchor="middle" textLength="5.2" lengthAdjust="spacingAndGlyphs">U3</text>
<text transform="translate(490.60,30.00) rotate(-90)" font-size="3.4" fill="#5a4a10" text-anchor="middle" textLength="2.6" lengthAdjust="spacingAndGlyphs">R</text>
<text transform="translate(496.67,30.00) rotate(-90)" font-size="3.4" fill="#6a6680" text-anchor="middle" textLength="5.2" lengthAdjust="spacingAndGlyphs">U5</text>
</g>
<text x="393.70" y="24.00" font-size="4.8" fill="#666" text-anchor="middle" font-weight="normal" textLength="16.30" lengthAdjust="spacingAndGlyphs"  style="">lnt3 enh</text>
<text x="416.20" y="24.00" font-size="4.8" fill="#555" text-anchor="middle" font-weight="normal" textLength="20.00" lengthAdjust="spacingAndGlyphs"  style=""><tspan font-style="italic">CYBB</tspan> pro</text>
<text x="443.40" y="24.00" font-size="4.8" fill="#555" text-anchor="middle" font-weight="normal" textLength="16.50" lengthAdjust="spacingAndGlyphs"  style="">mCitrine</text>
<text x="471.20" y="24.00" font-size="4.8" fill="#555" text-anchor="middle" font-weight="normal" textLength="12.50" lengthAdjust="spacingAndGlyphs"  style="">WPRE</text>
<g>
<rect x="314.10" y="46.40" width="18.20" height="10" rx="1.3" fill="#dcdce6" stroke="#505058" stroke-width="0.9"/>
<rect x="320.17" y="46.85" width="6.07" height="9.10" fill="#f0e2a2"/>
<rect x="326.23" y="46.85" width="5.62" height="9.10" fill="#e2deee"/>
<line x1="320.17" y1="46.40" x2="320.17" y2="56.40" stroke="#4b4b4e" stroke-width="0.8"/>
<line x1="326.23" y1="46.40" x2="326.23" y2="56.40" stroke="#4b4b4e" stroke-width="0.8"/>
<text transform="translate(318.33,51.40) rotate(-90)" font-size="3.4" fill="#4a4a58" text-anchor="middle" textLength="5.2" lengthAdjust="spacingAndGlyphs">U3</text>
<text transform="translate(324.40,51.40) rotate(-90)" font-size="3.4" fill="#5a4a10" text-anchor="middle" textLength="2.6" lengthAdjust="spacingAndGlyphs">R</text>
<text transform="translate(330.47,51.40) rotate(-90)" font-size="3.4" fill="#6a6680" text-anchor="middle" textLength="5.2" lengthAdjust="spacingAndGlyphs">U5</text>
</g>
<line x1="332.30" y1="51.75" x2="336.5" y2="51.75" stroke="#333" stroke-width="0.8"/>
<path d="M334.2 51.55 V49.35 M333.6 49.35 H335.2" stroke="#555" stroke-width="0.45" fill="none"/>
<rect x="336.40" y="49.10" width="9.6" height="5.3" rx="1.4" fill="#fff" stroke="#3a3a3a" stroke-width="0.85"/>
<text x="341.20" y="52.85" font-size="3.0" fill="#666" text-anchor="middle" font-weight="normal" textLength="5.20" lengthAdjust="spacingAndGlyphs"  style="">RRE</text>
<rect x="347.50" y="49.10" width="9.6" height="5.3" rx="1.4" fill="#fff" stroke="#3a3a3a" stroke-width="0.85"/>
<text x="352.30" y="52.85" font-size="3.0" fill="#666" text-anchor="middle" font-weight="normal" textLength="5.20" lengthAdjust="spacingAndGlyphs"  style="">cPPT</text>
<rect x="358.40" y="48.10" width="21.10" height="7.3" rx="1" fill="#e89cc4" stroke="#3d3a36" stroke-width="0.9"/>
<text x="368.80" y="45.40" font-size="4.8" fill="#6d5a4a" text-anchor="middle" font-weight="normal" textLength="20.00" lengthAdjust="spacingAndGlyphs"  style="">Element 1</text>
<rect x="380.40" y="48.10" width="26.60" height="7.3" rx="1" fill="#9a8fd2" stroke="#3d3a36" stroke-width="0.9"/>
<rect x="406.6" y="50.95" width="2" height="1.6" fill="#222"/>
<rect x="408.60" y="48.10" width="14.00" height="7.3" rx="1" fill="#f6bc1d" stroke="#3d3a36" stroke-width="0.9"/>
<rect x="422.5" y="50.95" width="2" height="1.6" fill="#222"/>
<rect x="424.50" y="48.10" width="37.50" height="7.3" rx="1" fill="#2fa832" stroke="#2b3a22" stroke-width="0.9"/>
<line x1="462" y1="51.75" x2="464.4" y2="51.75" stroke="#333" stroke-width="0.8"/>
<rect x="464.40" y="48.10" width="14.00" height="7.3" rx="1" fill="#ececec" stroke="#333" stroke-width="0.9"/>
<line x1="478.4" y1="51.75" x2="480.3" y2="51.75" stroke="#333" stroke-width="0.8"/>
<g>
<rect x="480.30" y="46.40" width="18.20" height="10" rx="1.3" fill="#dcdce6" stroke="#505058" stroke-width="0.9"/>
<rect x="486.37" y="46.85" width="6.07" height="9.10" fill="#f0e2a2"/>
<rect x="492.43" y="46.85" width="5.62" height="9.10" fill="#e2deee"/>
<line x1="486.37" y1="46.40" x2="486.37" y2="56.40" stroke="#4b4b4e" stroke-width="0.8"/>
<line x1="492.43" y1="46.40" x2="492.43" y2="56.40" stroke="#4b4b4e" stroke-width="0.8"/>
<text transform="translate(484.53,51.40) rotate(-90)" font-size="3.4" fill="#4a4a58" text-anchor="middle" textLength="5.2" lengthAdjust="spacingAndGlyphs">U3</text>
<text transform="translate(490.60,51.40) rotate(-90)" font-size="3.4" fill="#5a4a10" text-anchor="middle" textLength="2.6" lengthAdjust="spacingAndGlyphs">R</text>
<text transform="translate(496.67,51.40) rotate(-90)" font-size="3.4" fill="#6a6680" text-anchor="middle" textLength="5.2" lengthAdjust="spacingAndGlyphs">U5</text>
</g>
<text x="393.70" y="45.40" font-size="4.8" fill="#666" text-anchor="middle" font-weight="normal" textLength="16.30" lengthAdjust="spacingAndGlyphs"  style="">lnt3 enh</text>
<text x="416.20" y="45.40" font-size="4.8" fill="#555" text-anchor="middle" font-weight="normal" textLength="20.00" lengthAdjust="spacingAndGlyphs"  style=""><tspan font-style="italic">CYBB</tspan> pro</text>
<text x="443.40" y="45.40" font-size="4.8" fill="#555" text-anchor="middle" font-weight="normal" textLength="16.50" lengthAdjust="spacingAndGlyphs"  style="">mCitrine</text>
<text x="471.20" y="45.40" font-size="4.8" fill="#555" text-anchor="middle" font-weight="normal" textLength="12.50" lengthAdjust="spacingAndGlyphs"  style="">WPRE</text>
<g>
<rect x="314.10" y="65.60" width="18.20" height="10" rx="1.3" fill="#dcdce6" stroke="#505058" stroke-width="0.9"/>
<rect x="320.17" y="66.05" width="6.07" height="9.10" fill="#f0e2a2"/>
<rect x="326.23" y="66.05" width="5.62" height="9.10" fill="#e2deee"/>
<line x1="320.17" y1="65.60" x2="320.17" y2="75.60" stroke="#4b4b4e" stroke-width="0.8"/>
<line x1="326.23" y1="65.60" x2="326.23" y2="75.60" stroke="#4b4b4e" stroke-width="0.8"/>
<text transform="translate(318.33,70.60) rotate(-90)" font-size="3.4" fill="#4a4a58" text-anchor="middle" textLength="5.2" lengthAdjust="spacingAndGlyphs">U3</text>
<text transform="translate(324.40,70.60) rotate(-90)" font-size="3.4" fill="#5a4a10" text-anchor="middle" textLength="2.6" lengthAdjust="spacingAndGlyphs">R</text>
<text transform="translate(330.47,70.60) rotate(-90)" font-size="3.4" fill="#6a6680" text-anchor="middle" textLength="5.2" lengthAdjust="spacingAndGlyphs">U5</text>
</g>
<line x1="332.30" y1="70.9" x2="336.5" y2="70.9" stroke="#333" stroke-width="0.8"/>
<path d="M334.2 70.7 V68.5 M333.6 68.5 H335.2" stroke="#555" stroke-width="0.45" fill="none"/>
<rect x="336.40" y="68.25" width="9.6" height="5.3" rx="1.4" fill="#fff" stroke="#3a3a3a" stroke-width="0.85"/>
<text x="341.20" y="72.00" font-size="3.0" fill="#666" text-anchor="middle" font-weight="normal" textLength="5.20" lengthAdjust="spacingAndGlyphs"  style="">RRE</text>
<rect x="347.50" y="68.25" width="9.6" height="5.3" rx="1.4" fill="#fff" stroke="#3a3a3a" stroke-width="0.85"/>
<text x="352.30" y="72.00" font-size="3.0" fill="#666" text-anchor="middle" font-weight="normal" textLength="5.20" lengthAdjust="spacingAndGlyphs"  style="">cPPT</text>
<rect x="358.40" y="67.25" width="21.10" height="7.3" rx="1" fill="#de6e66" stroke="#3d3a36" stroke-width="0.9"/>
<text x="368.80" y="65.00" font-size="4.8" fill="#6d5a4a" text-anchor="middle" font-weight="normal" textLength="20.00" lengthAdjust="spacingAndGlyphs"  style="">Element 2</text>
<rect x="380.40" y="67.25" width="26.60" height="7.3" rx="1" fill="#9a8fd2" stroke="#3d3a36" stroke-width="0.9"/>
<rect x="406.6" y="70.10" width="2" height="1.6" fill="#222"/>
<rect x="408.60" y="67.25" width="14.00" height="7.3" rx="1" fill="#f6bc1d" stroke="#3d3a36" stroke-width="0.9"/>
<rect x="422.5" y="70.10" width="2" height="1.6" fill="#222"/>
<rect x="424.50" y="67.25" width="37.50" height="7.3" rx="1" fill="#2fa832" stroke="#2b3a22" stroke-width="0.9"/>
<line x1="462" y1="70.9" x2="464.4" y2="70.9" stroke="#333" stroke-width="0.8"/>
<rect x="464.40" y="67.25" width="14.00" height="7.3" rx="1" fill="#ececec" stroke="#333" stroke-width="0.9"/>
<line x1="478.4" y1="70.9" x2="480.3" y2="70.9" stroke="#333" stroke-width="0.8"/>
<g>
<rect x="480.30" y="65.60" width="18.20" height="10" rx="1.3" fill="#dcdce6" stroke="#505058" stroke-width="0.9"/>
<rect x="486.37" y="66.05" width="6.07" height="9.10" fill="#f0e2a2"/>
<rect x="492.43" y="66.05" width="5.62" height="9.10" fill="#e2deee"/>
<line x1="486.37" y1="65.60" x2="486.37" y2="75.60" stroke="#4b4b4e" stroke-width="0.8"/>
<line x1="492.43" y1="65.60" x2="492.43" y2="75.60" stroke="#4b4b4e" stroke-width="0.8"/>
<text transform="translate(484.53,70.60) rotate(-90)" font-size="3.4" fill="#4a4a58" text-anchor="middle" textLength="5.2" lengthAdjust="spacingAndGlyphs">U3</text>
<text transform="translate(490.60,70.60) rotate(-90)" font-size="3.4" fill="#5a4a10" text-anchor="middle" textLength="2.6" lengthAdjust="spacingAndGlyphs">R</text>
<text transform="translate(496.67,70.60) rotate(-90)" font-size="3.4" fill="#6a6680" text-anchor="middle" textLength="5.2" lengthAdjust="spacingAndGlyphs">U5</text>
</g>
<text x="393.70" y="65.00" font-size="4.8" fill="#666" text-anchor="middle" font-weight="normal" textLength="16.30" lengthAdjust="spacingAndGlyphs"  style="">lnt3 enh</text>
<text x="416.20" y="65.00" font-size="4.8" fill="#555" text-anchor="middle" font-weight="normal" textLength="20.00" lengthAdjust="spacingAndGlyphs"  style=""><tspan font-style="italic">CYBB</tspan> pro</text>
<text x="443.40" y="65.00" font-size="4.8" fill="#555" text-anchor="middle" font-weight="normal" textLength="16.50" lengthAdjust="spacingAndGlyphs"  style="">mCitrine</text>
<text x="471.20" y="65.00" font-size="4.8" fill="#555" text-anchor="middle" font-weight="normal" textLength="12.50" lengthAdjust="spacingAndGlyphs"  style="">WPRE</text>
<g>
<rect x="314.10" y="87.00" width="18.20" height="10" rx="1.3" fill="#dcdce6" stroke="#505058" stroke-width="0.9"/>
<rect x="320.17" y="87.45" width="6.07" height="9.10" fill="#f0e2a2"/>
<rect x="326.23" y="87.45" width="5.62" height="9.10" fill="#e2deee"/>
<line x1="320.17" y1="87.00" x2="320.17" y2="97.00" stroke="#4b4b4e" stroke-width="0.8"/>
<line x1="326.23" y1="87.00" x2="326.23" y2="97.00" stroke="#4b4b4e" stroke-width="0.8"/>
<text transform="translate(318.33,92.00) rotate(-90)" font-size="3.4" fill="#4a4a58" text-anchor="middle" textLength="5.2" lengthAdjust="spacingAndGlyphs">U3</text>
<text transform="translate(324.40,92.00) rotate(-90)" font-size="3.4" fill="#5a4a10" text-anchor="middle" textLength="2.6" lengthAdjust="spacingAndGlyphs">R</text>
<text transform="translate(330.47,92.00) rotate(-90)" font-size="3.4" fill="#6a6680" text-anchor="middle" textLength="5.2" lengthAdjust="spacingAndGlyphs">U5</text>
</g>
<line x1="332.30" y1="92.2" x2="336.5" y2="92.2" stroke="#333" stroke-width="0.8"/>
<path d="M334.2 92.0 V89.8 M333.6 89.8 H335.2" stroke="#555" stroke-width="0.45" fill="none"/>
<rect x="336.40" y="89.55" width="9.6" height="5.3" rx="1.4" fill="#fff" stroke="#3a3a3a" stroke-width="0.85"/>
<text x="341.20" y="93.30" font-size="3.0" fill="#666" text-anchor="middle" font-weight="normal" textLength="5.20" lengthAdjust="spacingAndGlyphs"  style="">RRE</text>
<rect x="347.50" y="89.55" width="9.6" height="5.3" rx="1.4" fill="#fff" stroke="#3a3a3a" stroke-width="0.85"/>
<text x="352.30" y="93.30" font-size="3.0" fill="#666" text-anchor="middle" font-weight="normal" textLength="5.20" lengthAdjust="spacingAndGlyphs"  style="">cPPT</text>
<rect x="358.40" y="88.55" width="21.10" height="7.3" rx="1" fill="#a9c48e" stroke="#3d3a36" stroke-width="0.9"/>
<text x="368.80" y="85.60" font-size="4.8" fill="#6d5a4a" text-anchor="middle" font-weight="normal" textLength="20.00" lengthAdjust="spacingAndGlyphs"  style="">Element 3</text>
<rect x="380.40" y="88.55" width="26.60" height="7.3" rx="1" fill="#9a8fd2" stroke="#3d3a36" stroke-width="0.9"/>
<rect x="406.6" y="91.40" width="2" height="1.6" fill="#222"/>
<rect x="408.60" y="88.55" width="14.00" height="7.3" rx="1" fill="#f6bc1d" stroke="#3d3a36" stroke-width="0.9"/>
<rect x="422.5" y="91.40" width="2" height="1.6" fill="#222"/>
<rect x="424.50" y="88.55" width="37.50" height="7.3" rx="1" fill="#2fa832" stroke="#2b3a22" stroke-width="0.9"/>
<line x1="462" y1="92.2" x2="464.4" y2="92.2" stroke="#333" stroke-width="0.8"/>
<rect x="464.40" y="88.55" width="14.00" height="7.3" rx="1" fill="#ececec" stroke="#333" stroke-width="0.9"/>
<line x1="478.4" y1="92.2" x2="480.3" y2="92.2" stroke="#333" stroke-width="0.8"/>
<g>
<rect x="480.30" y="87.00" width="18.20" height="10" rx="1.3" fill="#dcdce6" stroke="#505058" stroke-width="0.9"/>
<rect x="486.37" y="87.45" width="6.07" height="9.10" fill="#f0e2a2"/>
<rect x="492.43" y="87.45" width="5.62" height="9.10" fill="#e2deee"/>
<line x1="486.37" y1="87.00" x2="486.37" y2="97.00" stroke="#4b4b4e" stroke-width="0.8"/>
<line x1="492.43" y1="87.00" x2="492.43" y2="97.00" stroke="#4b4b4e" stroke-width="0.8"/>
<text transform="translate(484.53,92.00) rotate(-90)" font-size="3.4" fill="#4a4a58" text-anchor="middle" textLength="5.2" lengthAdjust="spacingAndGlyphs">U3</text>
<text transform="translate(490.60,92.00) rotate(-90)" font-size="3.4" fill="#5a4a10" text-anchor="middle" textLength="2.6" lengthAdjust="spacingAndGlyphs">R</text>
<text transform="translate(496.67,92.00) rotate(-90)" font-size="3.4" fill="#6a6680" text-anchor="middle" textLength="5.2" lengthAdjust="spacingAndGlyphs">U5</text>
</g>
<text x="393.70" y="85.60" font-size="4.8" fill="#666" text-anchor="middle" font-weight="normal" textLength="16.30" lengthAdjust="spacingAndGlyphs"  style="">lnt3 enh</text>
<text x="416.20" y="85.60" font-size="4.8" fill="#555" text-anchor="middle" font-weight="normal" textLength="20.00" lengthAdjust="spacingAndGlyphs"  style=""><tspan font-style="italic">CYBB</tspan> pro</text>
<text x="443.40" y="85.60" font-size="4.8" fill="#555" text-anchor="middle" font-weight="normal" textLength="16.50" lengthAdjust="spacingAndGlyphs"  style="">mCitrine</text>
<text x="471.20" y="85.60" font-size="4.8" fill="#555" text-anchor="middle" font-weight="normal" textLength="12.50" lengthAdjust="spacingAndGlyphs"  style="">WPRE</text>
<g>
<rect x="314.10" y="113.10" width="18.20" height="10" rx="1.3" fill="#dcdce6" stroke="#505058" stroke-width="0.9"/>
<rect x="320.17" y="113.55" width="6.07" height="9.10" fill="#f0e2a2"/>
<rect x="326.23" y="113.55" width="5.62" height="9.10" fill="#e2deee"/>
<line x1="320.17" y1="113.10" x2="320.17" y2="123.10" stroke="#4b4b4e" stroke-width="0.8"/>
<line x1="326.23" y1="113.10" x2="326.23" y2="123.10" stroke="#4b4b4e" stroke-width="0.8"/>
<text transform="translate(318.33,118.10) rotate(-90)" font-size="3.4" fill="#4a4a58" text-anchor="middle" textLength="5.2" lengthAdjust="spacingAndGlyphs">U3</text>
<text transform="translate(324.40,118.10) rotate(-90)" font-size="3.4" fill="#5a4a10" text-anchor="middle" textLength="2.6" lengthAdjust="spacingAndGlyphs">R</text>
<text transform="translate(330.47,118.10) rotate(-90)" font-size="3.4" fill="#6a6680" text-anchor="middle" textLength="5.2" lengthAdjust="spacingAndGlyphs">U5</text>
</g>
<line x1="332.30" y1="118.3" x2="336.5" y2="118.3" stroke="#333" stroke-width="0.8"/>
<path d="M334.2 118.1 V115.89999999999999 M333.6 115.89999999999999 H335.2" stroke="#555" stroke-width="0.45" fill="none"/>
<rect x="336.40" y="115.65" width="9.6" height="5.3" rx="1.4" fill="#fff" stroke="#3a3a3a" stroke-width="0.85"/>
<text x="341.20" y="119.40" font-size="3.0" fill="#666" text-anchor="middle" font-weight="normal" textLength="5.20" lengthAdjust="spacingAndGlyphs"  style="">RRE</text>
<rect x="347.50" y="115.65" width="9.6" height="5.3" rx="1.4" fill="#fff" stroke="#3a3a3a" stroke-width="0.85"/>
<text x="352.30" y="119.40" font-size="3.0" fill="#666" text-anchor="middle" font-weight="normal" textLength="5.20" lengthAdjust="spacingAndGlyphs"  style="">cPPT</text>
<rect x="358.40" y="114.65" width="21.10" height="7.3" rx="1" fill="#2aa9e0" stroke="#3d3a36" stroke-width="0.9"/>
<text x="368.80" y="112.20" font-size="4.8" fill="#6d5a4a" text-anchor="middle" font-weight="normal" textLength="22.50" lengthAdjust="spacingAndGlyphs"  style="">Element 15</text>
<rect x="380.40" y="114.65" width="26.60" height="7.3" rx="1" fill="#9a8fd2" stroke="#3d3a36" stroke-width="0.9"/>
<rect x="406.6" y="117.50" width="2" height="1.6" fill="#222"/>
<rect x="408.60" y="114.65" width="14.00" height="7.3" rx="1" fill="#f6bc1d" stroke="#3d3a36" stroke-width="0.9"/>
<rect x="422.5" y="117.50" width="2" height="1.6" fill="#222"/>
<rect x="424.50" y="114.65" width="37.50" height="7.3" rx="1" fill="#2fa832" stroke="#2b3a22" stroke-width="0.9"/>
<line x1="462" y1="118.3" x2="464.4" y2="118.3" stroke="#333" stroke-width="0.8"/>
<rect x="464.40" y="114.65" width="14.00" height="7.3" rx="1" fill="#ececec" stroke="#333" stroke-width="0.9"/>
<line x1="478.4" y1="118.3" x2="480.3" y2="118.3" stroke="#333" stroke-width="0.8"/>
<g>
<rect x="480.30" y="113.10" width="18.20" height="10" rx="1.3" fill="#dcdce6" stroke="#505058" stroke-width="0.9"/>
<rect x="486.37" y="113.55" width="6.07" height="9.10" fill="#f0e2a2"/>
<rect x="492.43" y="113.55" width="5.62" height="9.10" fill="#e2deee"/>
<line x1="486.37" y1="113.10" x2="486.37" y2="123.10" stroke="#4b4b4e" stroke-width="0.8"/>
<line x1="492.43" y1="113.10" x2="492.43" y2="123.10" stroke="#4b4b4e" stroke-width="0.8"/>
<text transform="translate(484.53,118.10) rotate(-90)" font-size="3.4" fill="#4a4a58" text-anchor="middle" textLength="5.2" lengthAdjust="spacingAndGlyphs">U3</text>
<text transform="translate(490.60,118.10) rotate(-90)" font-size="3.4" fill="#5a4a10" text-anchor="middle" textLength="2.6" lengthAdjust="spacingAndGlyphs">R</text>
<text transform="translate(496.67,118.10) rotate(-90)" font-size="3.4" fill="#6a6680" text-anchor="middle" textLength="5.2" lengthAdjust="spacingAndGlyphs">U5</text>
</g>
<text x="393.70" y="112.20" font-size="4.8" fill="#666" text-anchor="middle" font-weight="normal" textLength="16.30" lengthAdjust="spacingAndGlyphs"  style="">lnt3 enh</text>
<text x="416.20" y="112.20" font-size="4.8" fill="#555" text-anchor="middle" font-weight="normal" textLength="20.00" lengthAdjust="spacingAndGlyphs"  style=""><tspan font-style="italic">CYBB</tspan> pro</text>
<text x="443.40" y="112.20" font-size="4.8" fill="#555" text-anchor="middle" font-weight="normal" textLength="16.50" lengthAdjust="spacingAndGlyphs"  style="">mCitrine</text>
<text x="471.20" y="112.20" font-size="4.8" fill="#555" text-anchor="middle" font-weight="normal" textLength="12.50" lengthAdjust="spacingAndGlyphs"  style="">WPRE</text>
<line x1="368.6" y1="97" x2="368.6" y2="108.6" stroke="#5a4a40" stroke-width="0.6" stroke-dasharray="0.7,0.9"/>
<g>
<rect x="358.00" y="136.80" width="16.50" height="10" rx="1.3" fill="#dcdce6" stroke="#505058" stroke-width="0.9"/>
<rect x="363.50" y="137.25" width="5.50" height="9.10" fill="#f0e2a2"/>
<rect x="369.00" y="137.25" width="5.05" height="9.10" fill="#e2deee"/>
<line x1="363.50" y1="136.80" x2="363.50" y2="146.80" stroke="#4b4b4e" stroke-width="0.8"/>
<line x1="369.00" y1="136.80" x2="369.00" y2="146.80" stroke="#4b4b4e" stroke-width="0.8"/>
<text transform="translate(361.95,141.80) rotate(-90)" font-size="3.4" fill="#4a4a58" text-anchor="middle" textLength="5.2" lengthAdjust="spacingAndGlyphs">U3</text>
<text transform="translate(367.45,141.80) rotate(-90)" font-size="3.4" fill="#5a4a10" text-anchor="middle" textLength="2.6" lengthAdjust="spacingAndGlyphs">R</text>
<text transform="translate(372.95,141.80) rotate(-90)" font-size="3.4" fill="#6a6680" text-anchor="middle" textLength="5.2" lengthAdjust="spacingAndGlyphs">U5</text>
</g>
<line x1="374.5" y1="141.8" x2="378.5" y2="141.8" stroke="#333" stroke-width="0.8"/>
<path d="M376.5 141.60000000000002 V139.4 M375.9 139.4 H377.5" stroke="#555" stroke-width="0.45" fill="none"/>
<rect x="378.50" y="139.15" width="9.6" height="5.3" rx="1.4" fill="#fff" stroke="#3a3a3a" stroke-width="0.85"/>
<text x="383.30" y="142.90" font-size="3.0" fill="#666" text-anchor="middle" font-weight="normal" textLength="5.20" lengthAdjust="spacingAndGlyphs"  style="">RRE</text>
<rect x="389.60" y="139.15" width="9.6" height="5.3" rx="1.4" fill="#fff" stroke="#3a3a3a" stroke-width="0.85"/>
<text x="394.40" y="142.90" font-size="3.0" fill="#666" text-anchor="middle" font-weight="normal" textLength="5.20" lengthAdjust="spacingAndGlyphs"  style="">cPPT</text>
<rect x="400.90" y="138.15" width="11.60" height="7.3" rx="1" fill="#ee8a10" stroke="#3d3a36" stroke-width="0.9"/>
<rect x="412.50" y="138.15" width="11.40" height="7.3" rx="1" fill="#ee8a10" stroke="#3d3a36" stroke-width="0.9"/>
<rect x="423.90" y="138.15" width="38.10" height="7.3" rx="1" fill="#2fa832" stroke="#2b3a22" stroke-width="0.9"/>
<line x1="462" y1="141.8" x2="464.4" y2="141.8" stroke="#333" stroke-width="0.8"/>
<rect x="464.40" y="138.15" width="14.00" height="7.3" rx="1" fill="#ececec" stroke="#333" stroke-width="0.9"/>
<line x1="478.4" y1="141.8" x2="480.3" y2="141.8" stroke="#333" stroke-width="0.8"/>
<g>
<rect x="480.30" y="137.20" width="18.20" height="10" rx="1.3" fill="#dcdce6" stroke="#505058" stroke-width="0.9"/>
<rect x="486.37" y="137.65" width="6.07" height="9.10" fill="#f0e2a2"/>
<rect x="492.43" y="137.65" width="5.62" height="9.10" fill="#e2deee"/>
<line x1="486.37" y1="137.20" x2="486.37" y2="147.20" stroke="#4b4b4e" stroke-width="0.8"/>
<line x1="492.43" y1="137.20" x2="492.43" y2="147.20" stroke="#4b4b4e" stroke-width="0.8"/>
<text transform="translate(484.53,142.20) rotate(-90)" font-size="3.4" fill="#4a4a58" text-anchor="middle" textLength="5.2" lengthAdjust="spacingAndGlyphs">U3</text>
<text transform="translate(490.60,142.20) rotate(-90)" font-size="3.4" fill="#5a4a10" text-anchor="middle" textLength="2.6" lengthAdjust="spacingAndGlyphs">R</text>
<text transform="translate(496.67,142.20) rotate(-90)" font-size="3.4" fill="#6a6680" text-anchor="middle" textLength="5.2" lengthAdjust="spacingAndGlyphs">U5</text>
</g>
<text x="412.20" y="133.00" font-size="5.2" fill="#555" text-anchor="middle" font-weight="normal" textLength="38.00" lengthAdjust="spacingAndGlyphs"  style="">Chimeric promoter</text>
<text x="412.20" y="136.20" font-size="2.6" fill="#4a6aa0" text-anchor="middle" font-weight="normal" textLength="29.00" lengthAdjust="spacingAndGlyphs"  style="">(Cathepsin G and LYZ4 Fwd)</text>
<text x="443.40" y="135.50" font-size="4.8" fill="#555" text-anchor="middle" font-weight="normal" textLength="16.50" lengthAdjust="spacingAndGlyphs"  style="">mCitrine</text>
<text x="471.20" y="135.50" font-size="4.8" fill="#555" text-anchor="middle" font-weight="normal" textLength="12.50" lengthAdjust="spacingAndGlyphs"  style="">WPRE</text>
</svg></body></html>
